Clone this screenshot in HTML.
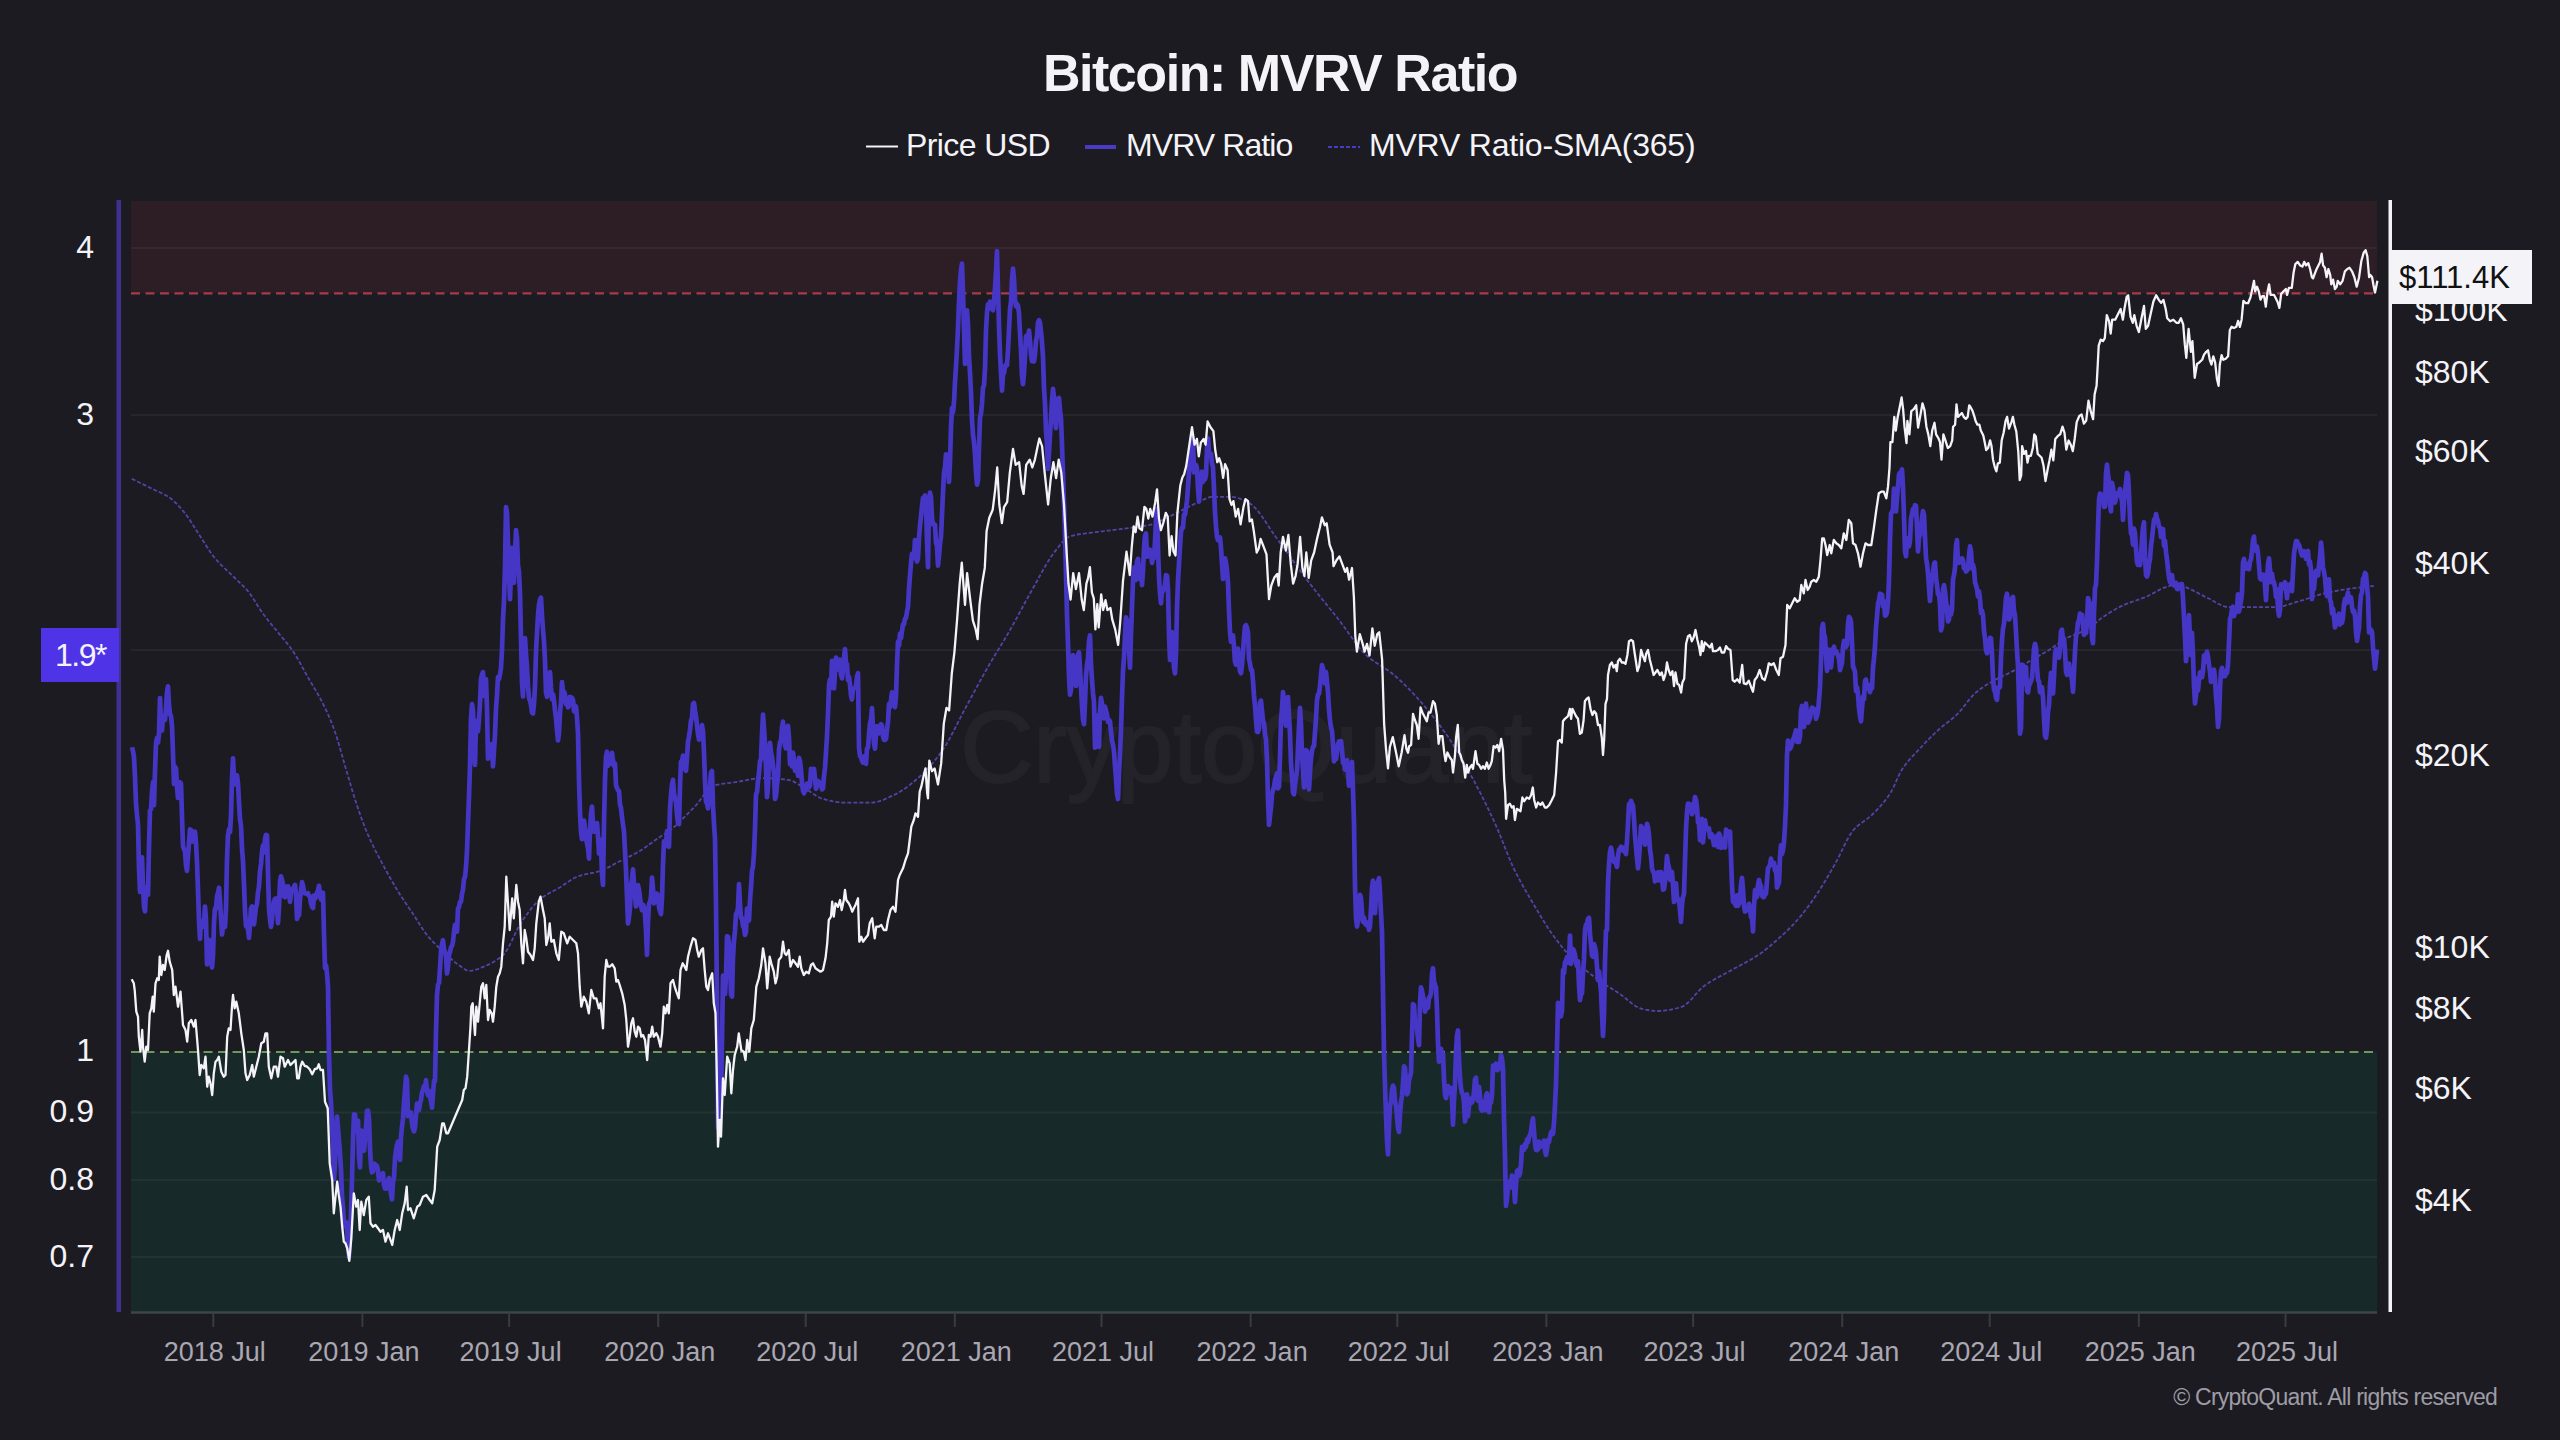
<!DOCTYPE html>
<html><head><meta charset="utf-8">
<style>
html,body{margin:0;padding:0;}
body{width:2560px;height:1440px;background:#1c1b21;overflow:hidden;position:relative;font-family:"Liberation Sans",sans-serif;}
.t{position:absolute;white-space:nowrap;line-height:1;}
</style></head><body>
<div class="t" style="left:960px;top:696px;font-size:102px;color:#242329;-webkit-text-stroke:1.8px #242329;letter-spacing:-0.6px;">CryptoQuant</div>
<div class="t" style="left:0;width:2560px;text-align:center;top:47px;font-size:52px;font-weight:bold;color:#f4f3f8;letter-spacing:-1.45px;">Bitcoin: MVRV Ratio</div>
<svg width="2560" height="1440" style="position:absolute;left:0;top:0">
  <line x1="866" y1="146.5" x2="898" y2="146.5" stroke="#f4f3f8" stroke-width="2"/>
  <line x1="1085" y1="147" x2="1116" y2="147" stroke="#4a3bc6" stroke-width="4"/>
  <line x1="1328" y1="147" x2="1360" y2="147" stroke="#4a3bc6" stroke-width="2" stroke-dasharray="4 2"/>
  <rect x="131" y="201" width="2246" height="92" fill="#2d1d24"/>
  <rect x="131" y="1052" width="2246" height="260" fill="#182929"/>
  <g stroke="rgba(255,255,255,0.05)" stroke-width="2">
    <line x1="131" y1="248" x2="2377" y2="248"/>
    <line x1="131" y1="415" x2="2377" y2="415"/>
    <line x1="131" y1="650" x2="2377" y2="650"/>
    <line x1="131" y1="1112.5" x2="2377" y2="1112.5"/>
    <line x1="131" y1="1180" x2="2377" y2="1180"/>
    <line x1="131" y1="1257" x2="2377" y2="1257"/>
  </g>
  <line x1="131" y1="293.3" x2="2377" y2="293.3" stroke="#a83a4a" stroke-width="2.2" stroke-dasharray="9 5.5"/>
  <line x1="131" y1="1052" x2="2377" y2="1052" stroke="#6c9a5a" stroke-width="2.2" stroke-dasharray="9 5.5"/>
  <line x1="131" y1="1312.5" x2="2377" y2="1312.5" stroke="#3d4547" stroke-width="2.5"/>
  <g stroke="#3a3b40" stroke-width="2">
    <line x1="213.3" y1="1313" x2="213.3" y2="1327"/>
    <line x1="362.4136" y1="1313" x2="362.4136" y2="1327"/>
    <line x1="509.096" y1="1313" x2="509.096" y2="1327"/>
    <line x1="658.2096" y1="1313" x2="658.2096" y2="1327"/>
    <line x1="805.7024000000001" y1="1313" x2="805.7024000000001" y2="1327"/>
    <line x1="954.816" y1="1313" x2="954.816" y2="1327"/>
    <line x1="1101.4984" y1="1313" x2="1101.4984" y2="1327"/>
    <line x1="1250.6119999999999" y1="1313" x2="1250.6119999999999" y2="1327"/>
    <line x1="1397.2944" y1="1313" x2="1397.2944" y2="1327"/>
    <line x1="1546.408" y1="1313" x2="1546.408" y2="1327"/>
    <line x1="1693.0904" y1="1313" x2="1693.0904" y2="1327"/>
    <line x1="1842.204" y1="1313" x2="1842.204" y2="1327"/>
    <line x1="1989.6968" y1="1313" x2="1989.6968" y2="1327"/>
    <line x1="2138.8104000000003" y1="1313" x2="2138.8104000000003" y2="1327"/>
    <line x1="2285.4928" y1="1313" x2="2285.4928" y2="1327"/>
  </g>
  <rect x="116.5" y="200" width="4.5" height="1112" fill="#40308f"/>
  <rect x="2388.5" y="200" width="3.5" height="1112" fill="#f4f3f8"/>
  <polyline points="131.8,478.8 133.8,479.7 135.8,480.7 137.8,481.7 139.8,482.7 141.8,483.7 143.8,484.6 145.8,485.6 147.8,486.6 149.8,487.6 151.8,488.6 153.8,489.5 155.8,490.5 157.8,491.3 159.8,492.3 161.8,493.2 163.8,494.2 165.8,495.3 167.8,496.5 169.8,497.8 171.8,499.3 173.8,501.1 175.8,503.0 177.8,505.0 179.8,507.2 181.8,509.5 183.8,511.8 185.8,514.3 187.8,517.1 189.8,520.0 191.8,523.1 193.8,526.3 195.8,529.5 197.8,532.6 199.8,535.7 201.8,538.8 203.8,541.9 205.8,545.1 207.8,548.3 209.8,551.3 211.8,554.2 213.8,556.8 215.8,559.2 217.8,561.4 219.8,563.5 221.8,565.6 223.8,567.5 225.8,569.4 227.8,571.2 229.8,573.1 231.8,575.1 233.8,577.0 235.8,579.0 237.8,580.9 239.8,582.7 241.8,584.6 243.8,586.6 245.8,588.7 247.8,591.0 249.8,593.5 251.8,596.4 253.8,599.5 255.8,602.6 257.8,605.9 259.8,609.0 261.8,612.0 263.8,614.8 265.8,617.4 267.8,620.0 269.8,622.4 271.8,624.9 273.8,627.3 275.8,629.7 277.8,632.2 279.8,634.7 281.8,637.0 283.8,639.4 285.8,641.8 287.8,644.3 289.8,646.8 291.8,649.5 293.8,652.4 295.8,655.6 297.8,659.0 299.8,662.5 301.8,666.1 303.8,669.8 305.8,673.5 307.8,677.1 309.8,680.5 311.8,683.9 313.8,687.2 315.8,690.6 317.8,694.0 319.8,697.6 321.8,701.3 323.8,705.3 325.8,709.5 327.8,713.8 329.8,718.4 331.8,723.3 333.8,728.5 335.8,734.2 337.8,740.6 339.8,747.4 341.8,754.5 343.8,761.6 345.8,768.4 347.8,775.2 349.8,782.1 351.8,788.9 353.8,795.5 355.8,801.8 357.8,807.8 359.8,813.6 361.8,819.1 363.8,824.5 365.8,829.6 367.8,834.4 369.8,838.9 371.8,843.2 373.8,847.3 375.8,851.3 377.8,855.1 379.8,858.9 381.8,862.7 383.8,866.4 385.8,870.1 387.8,873.7 389.8,877.3 391.8,880.9 393.8,884.3 395.8,887.7 397.8,891.0 399.8,894.2 401.8,897.3 403.8,900.3 405.8,903.3 407.8,906.2 409.8,909.2 411.8,912.1 413.8,915.1 415.8,918.2 417.8,921.4 419.8,924.6 421.8,927.7 423.8,930.7 425.8,933.5 427.8,936.1 429.8,938.4 431.8,940.6 433.8,942.7 435.8,944.6 437.8,946.5 439.8,948.4 441.8,950.2 443.8,952.1 445.8,954.0 447.8,955.9 449.8,957.7 451.8,959.5 453.8,961.3 455.8,962.9 457.8,964.3 459.8,965.8 461.8,967.3 463.8,968.7 465.8,969.9 467.8,970.7 469.8,970.9 471.8,970.7 473.8,970.3 475.8,969.7 477.8,969.1 479.8,968.3 481.8,967.4 483.8,966.6 485.8,965.8 487.8,964.9 489.8,964.0 491.8,963.0 493.8,961.8 495.8,960.6 497.8,959.2 499.8,957.7 501.8,956.1 503.8,954.3 505.8,951.7 507.8,948.5 509.8,944.8 511.8,940.8 513.8,936.6 515.8,932.4 517.8,928.4 519.8,924.7 521.8,921.5 523.8,918.6 525.8,915.8 527.8,913.1 529.8,910.4 531.8,907.9 533.8,905.5 535.8,903.3 537.8,901.3 539.8,899.5 541.8,897.9 543.8,896.5 545.8,895.2 547.8,894.0 549.8,892.9 551.8,891.8 553.8,890.7 555.8,889.7 557.8,888.6 559.8,887.4 561.8,886.1 563.8,884.8 565.8,883.4 567.8,882.1 569.8,880.8 571.8,879.5 573.8,878.3 575.8,877.3 577.8,876.5 579.8,875.8 581.8,875.2 583.8,874.7 585.8,874.2 587.8,873.8 589.8,873.4 591.8,873.0 593.8,872.6 595.8,872.1 597.8,871.6 599.8,871.0 601.8,870.3 603.8,869.5 605.8,868.6 607.8,867.6 609.8,866.6 611.8,865.5 613.8,864.4 615.8,863.3 617.8,862.2 619.8,861.2 621.8,860.2 623.8,859.3 625.8,858.3 627.8,857.4 629.8,856.4 631.8,855.4 633.8,854.3 635.8,853.3 637.8,852.1 639.8,850.9 641.8,849.7 643.8,848.4 645.8,847.0 647.8,845.6 649.8,844.1 651.8,842.7 653.8,841.2 655.8,839.8 657.8,838.4 659.8,837.1 661.8,835.7 663.8,834.4 665.8,833.1 667.8,831.7 669.8,830.3 671.8,828.8 673.8,827.2 675.8,825.6 677.8,823.6 679.8,821.6 681.8,819.6 683.8,817.6 685.8,815.6 687.8,813.6 689.8,811.6 691.8,809.6 693.8,807.6 695.8,805.5 697.8,803.1 699.8,800.5 701.8,797.8 703.8,795.1 705.8,792.5 707.8,790.2 709.8,788.2 711.8,786.6 713.8,785.7 715.8,785.2 717.8,784.7 719.8,784.3 721.8,783.9 723.8,783.6 725.8,783.4 727.8,783.1 729.8,782.9 731.8,782.6 733.8,782.4 735.8,782.1 737.8,781.8 739.8,781.4 741.8,781.0 743.8,780.7 745.8,780.3 747.8,779.9 749.8,779.5 751.8,779.2 753.8,778.9 755.8,778.6 757.8,778.4 759.8,778.3 761.8,778.2 763.8,778.2 765.8,778.2 767.8,778.3 769.8,778.3 771.8,778.4 773.8,778.5 775.8,778.7 777.8,778.8 779.8,779.0 781.8,779.2 783.8,779.4 785.8,779.6 787.8,779.9 789.8,780.2 791.8,780.8 793.8,781.6 795.8,782.7 797.8,783.9 799.8,785.2 801.8,786.4 803.8,787.6 805.8,788.7 807.8,790.1 809.8,791.4 811.8,792.9 813.8,794.3 815.8,795.6 817.8,796.8 819.8,797.8 821.8,798.6 823.8,799.1 825.8,799.7 827.8,800.2 829.8,800.6 831.8,801.1 833.8,801.5 835.8,801.8 837.8,802.1 839.8,802.3 841.8,802.5 843.8,802.6 845.8,802.6 847.8,802.6 849.8,802.6 851.8,802.6 853.8,802.6 855.8,802.6 857.8,802.6 859.8,802.6 861.8,802.6 863.8,802.6 865.8,802.6 867.8,802.6 869.8,802.6 871.8,802.6 873.8,802.5 875.8,802.1 877.8,801.7 879.8,801.1 881.8,800.4 883.8,799.6 885.8,798.7 887.8,797.8 889.8,796.9 891.8,795.9 893.8,795.0 895.8,794.1 897.8,793.0 899.8,791.9 901.8,790.6 903.8,789.3 905.8,787.9 907.8,786.4 909.8,784.9 911.8,783.3 913.8,781.7 915.8,780.0 917.8,778.3 919.8,776.5 921.8,774.7 923.8,772.8 925.8,770.8 927.8,768.7 929.8,766.4 931.8,764.1 933.8,761.7 935.8,759.2 937.8,756.7 939.8,754.0 941.8,751.2 943.8,748.3 945.8,745.2 947.8,741.8 949.8,738.2 951.8,734.5 953.8,730.6 955.8,726.7 957.8,722.8 959.8,718.8 961.8,714.9 963.8,711.1 965.8,707.4 967.8,703.7 969.8,700.0 971.8,696.3 973.8,692.6 975.8,688.9 977.8,685.2 979.8,681.6 981.8,677.9 983.8,674.3 985.8,670.8 987.8,667.2 989.8,663.8 991.8,660.4 993.8,657.1 995.8,653.7 997.8,650.5 999.8,647.2 1001.8,643.9 1003.8,640.6 1005.8,637.3 1007.8,633.9 1009.8,630.4 1011.8,626.9 1013.8,623.3 1015.8,619.7 1017.8,616.0 1019.8,612.3 1021.8,608.6 1023.8,604.8 1025.8,601.1 1027.8,597.5 1029.8,593.9 1031.8,590.3 1033.8,586.8 1035.8,583.2 1037.8,579.6 1039.8,575.9 1041.8,572.3 1043.8,568.7 1045.8,565.2 1047.8,561.9 1049.8,558.7 1051.8,555.7 1053.8,552.9 1055.8,550.4 1057.8,547.8 1059.8,545.3 1061.8,542.9 1063.8,540.7 1065.8,538.8 1067.8,537.3 1069.8,536.4 1071.8,535.8 1073.8,535.3 1075.8,534.9 1077.8,534.5 1079.8,534.2 1081.8,533.9 1083.8,533.6 1085.8,533.4 1087.8,533.1 1089.8,532.9 1091.8,532.6 1093.8,532.3 1095.8,532.1 1097.8,531.8 1099.8,531.5 1101.8,531.3 1103.8,531.1 1105.8,530.8 1107.8,530.6 1109.8,530.4 1111.8,530.1 1113.8,529.9 1115.8,529.7 1117.8,529.4 1119.8,529.2 1121.8,528.9 1123.8,528.6 1125.8,528.4 1127.8,528.2 1129.8,527.9 1131.8,527.7 1133.8,527.4 1135.8,527.2 1137.8,526.9 1139.8,526.6 1141.8,526.3 1143.8,526.0 1145.8,525.6 1147.8,525.2 1149.8,524.8 1151.8,524.3 1153.8,523.6 1155.8,522.9 1157.8,522.1 1159.8,521.2 1161.8,520.3 1163.8,519.3 1165.8,518.3 1167.8,517.3 1169.8,516.3 1171.8,515.4 1173.8,514.4 1175.8,513.4 1177.8,512.5 1179.8,511.5 1181.8,510.4 1183.8,509.4 1185.8,508.3 1187.8,507.3 1189.8,506.2 1191.8,505.2 1193.8,504.2 1195.8,503.3 1197.8,502.4 1199.8,501.5 1201.8,500.5 1203.8,499.5 1205.8,498.6 1207.8,497.8 1209.8,497.2 1211.8,496.9 1213.8,496.9 1215.8,496.9 1217.8,496.9 1219.8,496.9 1221.8,496.9 1223.8,496.9 1225.8,496.9 1227.8,496.9 1229.8,496.9 1231.8,496.9 1233.8,497.1 1235.8,497.4 1237.8,498.0 1239.8,498.6 1241.8,499.5 1243.8,500.4 1245.8,501.4 1247.8,502.4 1249.8,503.5 1251.8,504.8 1253.8,506.6 1255.8,508.6 1257.8,510.9 1259.8,513.5 1261.8,516.2 1263.8,519.1 1265.8,522.1 1267.8,525.2 1269.8,528.2 1271.8,531.3 1273.8,534.2 1275.8,537.0 1277.8,539.7 1279.8,542.4 1281.8,545.1 1283.8,547.9 1285.8,550.6 1287.8,553.4 1289.8,556.2 1291.8,559.0 1293.8,561.8 1295.8,564.6 1297.8,567.4 1299.8,570.1 1301.8,572.9 1303.8,575.6 1305.8,578.3 1307.8,580.9 1309.8,583.5 1311.8,586.1 1313.8,588.7 1315.8,591.2 1317.8,593.7 1319.8,596.2 1321.8,598.7 1323.8,601.1 1325.8,603.6 1327.8,606.1 1329.8,608.5 1331.8,611.0 1333.8,613.5 1335.8,616.0 1337.8,618.5 1339.8,621.1 1341.8,623.7 1343.8,626.5 1345.8,629.3 1347.8,632.1 1349.8,634.9 1351.8,637.7 1353.8,640.5 1355.8,643.2 1357.8,645.8 1359.8,648.3 1361.8,650.6 1363.8,652.8 1365.8,654.8 1367.8,656.5 1369.8,658.2 1371.8,659.7 1373.8,661.1 1375.8,662.5 1377.8,663.8 1379.8,665.1 1381.8,666.3 1383.8,667.6 1385.8,668.9 1387.8,670.2 1389.8,671.7 1391.8,673.2 1393.8,674.8 1395.8,676.5 1397.8,678.3 1399.8,680.1 1401.8,682.0 1403.8,683.9 1405.8,685.8 1407.8,687.9 1409.8,689.9 1411.8,692.0 1413.8,694.2 1415.8,696.3 1417.8,698.5 1419.8,700.7 1421.8,703.0 1423.8,705.3 1425.8,707.6 1427.8,710.0 1429.8,712.5 1431.8,715.0 1433.8,717.5 1435.8,720.1 1437.8,722.7 1439.8,725.4 1441.8,728.1 1443.8,730.9 1445.8,733.7 1447.8,736.6 1449.8,739.6 1451.8,742.7 1453.8,745.8 1455.8,749.0 1457.8,752.3 1459.8,755.7 1461.8,759.1 1463.8,762.6 1465.8,766.2 1467.8,769.7 1469.8,773.3 1471.8,777.0 1473.8,780.6 1475.8,784.4 1477.8,788.2 1479.8,792.0 1481.8,795.9 1483.8,799.9 1485.8,803.9 1487.8,808.0 1489.8,812.2 1491.8,816.4 1493.8,820.7 1495.8,825.1 1497.8,829.7 1499.8,834.6 1501.8,839.6 1503.8,844.7 1505.8,849.7 1507.8,854.7 1509.8,859.5 1511.8,864.2 1513.8,868.5 1515.8,872.5 1517.8,876.4 1519.8,880.2 1521.8,883.9 1523.8,887.5 1525.8,891.0 1527.8,894.4 1529.8,897.8 1531.8,901.2 1533.8,904.6 1535.8,908.0 1537.8,911.4 1539.8,914.7 1541.8,918.1 1543.8,921.3 1545.8,924.5 1547.8,927.7 1549.8,930.7 1551.8,933.5 1553.8,936.3 1555.8,939.0 1557.8,941.6 1559.8,944.2 1561.8,946.7 1563.8,949.1 1565.8,951.4 1567.8,953.6 1569.8,955.8 1571.8,957.9 1573.8,959.8 1575.8,961.7 1577.8,963.6 1579.8,965.3 1581.8,967.0 1583.8,968.7 1585.8,970.3 1587.8,971.9 1589.8,973.5 1591.8,975.0 1593.8,976.5 1595.8,978.0 1597.8,979.5 1599.8,980.9 1601.8,982.2 1603.8,983.6 1605.8,984.9 1607.8,986.2 1609.8,987.4 1611.8,988.7 1613.8,990.0 1615.8,991.3 1617.8,992.6 1619.8,993.9 1621.8,995.4 1623.8,996.9 1625.8,998.5 1627.8,1000.2 1629.8,1001.8 1631.8,1003.4 1633.8,1004.9 1635.8,1006.2 1637.8,1007.3 1639.8,1008.2 1641.8,1008.9 1643.8,1009.3 1645.8,1009.7 1647.8,1010.0 1649.8,1010.4 1651.8,1010.6 1653.8,1010.8 1655.8,1011.0 1657.8,1011.0 1659.8,1011.0 1661.8,1010.9 1663.8,1010.7 1665.8,1010.4 1667.8,1010.1 1669.8,1009.8 1671.8,1009.4 1673.8,1009.0 1675.8,1008.5 1677.8,1008.0 1679.8,1007.4 1681.8,1006.8 1683.8,1005.9 1685.8,1004.5 1687.8,1002.8 1689.8,1000.9 1691.8,998.8 1693.8,996.5 1695.8,994.2 1697.8,992.0 1699.8,989.8 1701.8,987.9 1703.8,986.2 1705.8,984.7 1707.8,983.4 1709.8,982.1 1711.8,980.9 1713.8,979.7 1715.8,978.6 1717.8,977.5 1719.8,976.4 1721.8,975.4 1723.8,974.3 1725.8,973.3 1727.8,972.2 1729.8,971.1 1731.8,970.0 1733.8,968.8 1735.8,967.7 1737.8,966.7 1739.8,965.6 1741.8,964.5 1743.8,963.5 1745.8,962.4 1747.8,961.3 1749.8,960.2 1751.8,959.0 1753.8,957.9 1755.8,956.6 1757.8,955.3 1759.8,954.0 1761.8,952.6 1763.8,951.1 1765.8,949.5 1767.8,947.9 1769.8,946.2 1771.8,944.5 1773.8,942.8 1775.8,941.0 1777.8,939.2 1779.8,937.4 1781.8,935.6 1783.8,933.8 1785.8,931.9 1787.8,930.0 1789.8,928.0 1791.8,926.0 1793.8,923.9 1795.8,921.7 1797.8,919.5 1799.8,917.2 1801.8,914.8 1803.8,912.3 1805.8,909.7 1807.8,907.1 1809.8,904.4 1811.8,901.6 1813.8,898.7 1815.8,895.8 1817.8,892.8 1819.8,889.7 1821.8,886.6 1823.8,883.3 1825.8,879.9 1827.8,876.5 1829.8,873.1 1831.8,869.6 1833.8,866.1 1835.8,862.6 1837.8,858.8 1839.8,854.8 1841.8,850.6 1843.8,846.5 1845.8,842.4 1847.8,838.6 1849.8,835.2 1851.8,832.2 1853.8,829.7 1855.8,827.6 1857.8,825.8 1859.8,824.2 1861.8,822.7 1863.8,821.3 1865.8,819.9 1867.8,818.4 1869.8,816.8 1871.8,815.0 1873.8,813.0 1875.8,811.0 1877.8,808.9 1879.8,806.8 1881.8,804.5 1883.8,802.1 1885.8,799.6 1887.8,796.9 1889.8,794.0 1891.8,790.6 1893.8,786.6 1895.8,782.1 1897.8,777.6 1899.8,773.4 1901.8,769.8 1903.8,766.8 1905.8,764.1 1907.8,761.6 1909.8,759.3 1911.8,757.0 1913.8,754.9 1915.8,752.8 1917.8,750.7 1919.8,748.6 1921.8,746.5 1923.8,744.3 1925.8,742.2 1927.8,740.2 1929.8,738.2 1931.8,736.2 1933.8,734.2 1935.8,732.3 1937.8,730.5 1939.8,728.6 1941.8,726.9 1943.8,725.3 1945.8,723.7 1947.8,722.2 1949.8,720.6 1951.8,719.0 1953.8,717.3 1955.8,715.6 1957.8,713.7 1959.8,711.5 1961.8,709.1 1963.8,706.6 1965.8,704.0 1967.8,701.4 1969.8,698.9 1971.8,696.6 1973.8,694.4 1975.8,692.6 1977.8,691.0 1979.8,689.4 1981.8,688.0 1983.8,686.6 1985.8,685.3 1987.8,684.1 1989.8,682.9 1991.8,681.7 1993.8,680.6 1995.8,679.5 1997.8,678.4 1999.8,677.4 2001.8,676.5 2003.8,675.5 2005.8,674.6 2007.8,673.7 2009.8,672.7 2011.8,671.6 2013.8,670.6 2015.8,669.4 2017.8,668.3 2019.8,667.1 2021.8,665.9 2023.8,664.7 2025.8,663.5 2027.8,662.3 2029.8,661.1 2031.8,660.0 2033.8,658.8 2035.8,657.7 2037.8,656.5 2039.8,655.4 2041.8,654.3 2043.8,653.1 2045.8,651.9 2047.8,650.7 2049.8,649.5 2051.8,648.1 2053.8,646.7 2055.8,645.3 2057.8,643.9 2059.8,642.5 2061.8,641.1 2063.8,639.8 2065.8,638.6 2067.8,637.5 2069.8,636.6 2071.8,635.7 2073.8,635.0 2075.8,634.2 2077.8,633.5 2079.8,632.7 2081.8,631.9 2083.8,631.0 2085.8,630.0 2087.8,628.8 2089.8,627.4 2091.8,625.9 2093.8,624.3 2095.8,622.7 2097.8,621.0 2099.8,619.4 2101.8,617.9 2103.8,616.5 2105.8,615.2 2107.8,613.9 2109.8,612.6 2111.8,611.4 2113.8,610.2 2115.8,609.0 2117.8,607.9 2119.8,606.9 2121.8,605.9 2123.8,605.0 2125.8,604.2 2127.8,603.4 2129.8,602.6 2131.8,601.9 2133.8,601.2 2135.8,600.5 2137.8,599.9 2139.8,599.2 2141.8,598.4 2143.8,597.7 2145.8,596.9 2147.8,596.0 2149.8,595.0 2151.8,594.0 2153.8,592.9 2155.8,591.7 2157.8,590.7 2159.8,589.6 2161.8,588.7 2163.8,587.8 2165.8,587.1 2167.8,586.5 2169.8,585.8 2171.8,585.2 2173.8,584.7 2175.8,584.4 2177.8,584.3 2179.8,584.6 2181.8,585.3 2183.8,586.2 2185.8,587.1 2187.8,588.1 2189.8,589.0 2191.8,589.9 2193.8,590.9 2195.8,591.9 2197.8,592.9 2199.8,594.0 2201.8,595.0 2203.8,596.1 2205.8,597.1 2207.8,598.0 2209.8,599.0 2211.8,600.1 2213.8,601.2 2215.8,602.4 2217.8,603.5 2219.8,604.5 2221.8,605.5 2223.8,606.2 2225.8,606.8 2227.8,607.1 2229.8,607.2 2231.8,607.2 2233.8,607.2 2235.8,607.2 2237.8,607.2 2239.8,607.2 2241.8,607.2 2243.8,607.2 2245.8,607.2 2247.8,607.2 2249.8,607.2 2251.8,607.2 2253.8,607.2 2255.8,607.2 2257.8,607.2 2259.8,607.2 2261.8,607.2 2263.8,607.2 2265.8,607.2 2267.8,607.2 2269.8,607.2 2271.8,607.2 2273.8,607.2 2275.8,607.2 2277.8,607.1 2279.8,606.8 2281.8,606.4 2283.8,606.0 2285.8,605.4 2287.8,604.8 2289.8,604.2 2291.8,603.5 2293.8,602.9 2295.8,602.2 2297.8,601.6 2299.8,601.0 2301.8,600.4 2303.8,599.8 2305.8,599.1 2307.8,598.5 2309.8,597.8 2311.8,597.1 2313.8,596.4 2315.8,595.8 2317.8,595.2 2319.8,594.6 2321.8,594.0 2323.8,593.5 2325.8,593.1 2327.8,592.6 2329.8,592.2 2331.8,591.8 2333.8,591.4 2335.8,591.0 2337.8,590.6 2339.8,590.3 2341.8,589.9 2343.8,589.6 2345.8,589.3 2347.8,589.0 2349.8,588.7 2351.8,588.4 2353.8,588.1 2355.8,587.9 2357.8,587.6 2359.8,587.4 2361.8,587.1 2363.8,586.9 2365.8,586.7 2367.8,586.5 2369.8,586.3 2371.8,586.1 2373.8,585.9" fill="none" stroke="#5244a6" stroke-width="1.8" stroke-dasharray="4 2"/>
  <polyline points="132.0,747.2 133.0,751.2 134.0,757.2 135.0,777.3 136.0,803.5 137.0,814.6 138.0,824.6 139.0,868.0 140.0,892.0 141.0,875.9 142.0,857.3 143.0,886.4 144.0,906.1 145.0,911.3 146.0,889.1 147.0,887.0 148.0,895.0 149.0,846.2 150.0,810.6 151.0,809.2 152.0,792.5 153.0,782.1 154.0,805.1 155.0,771.1 156.0,743.3 157.0,738.0 158.0,742.7 159.0,733.7 160.0,698.2 161.0,724.3 162.0,730.5 163.0,716.8 164.0,718.5 165.0,719.8 166.0,708.6 167.0,692.4 168.0,686.3 169.0,704.8 170.0,714.3 171.0,716.0 172.0,725.9 173.0,753.5 174.0,784.0 175.0,766.8 176.0,768.5 177.0,787.0 178.0,798.0 179.0,789.0 180.0,782.2 181.0,783.4 182.0,816.6 183.0,846.2 184.0,849.2 185.0,851.4 186.0,865.4 187.0,870.9 188.0,856.3 189.0,842.8 190.0,829.4 191.0,830.0 192.0,832.2 193.0,841.4 194.0,841.5 195.0,831.5 196.0,842.9 197.0,862.2 198.0,890.4 199.0,920.5 200.0,938.9 201.0,921.2 202.0,922.2 203.0,926.6 204.0,921.5 205.0,906.5 206.0,919.7 207.0,964.3 208.0,946.5 209.0,939.7 210.0,950.6 211.0,960.5 212.0,967.5 213.0,955.8 214.0,923.0 215.0,908.3 216.0,908.6 217.0,896.3 218.0,893.0 219.0,887.7 220.0,901.1 221.0,918.7 222.0,934.5 223.0,926.0 224.0,924.9 225.0,927.0 226.0,908.0 227.0,859.3 228.0,835.7 229.0,829.1 230.0,832.0 231.0,816.0 232.0,778.9 233.0,758.4 234.0,777.2 235.0,784.3 236.0,776.5 237.0,775.5 238.0,783.4 239.0,802.5 240.0,819.4 241.0,825.9 242.0,848.3 243.0,861.5 244.0,884.4 245.0,910.6 246.0,926.2 247.0,926.5 248.0,929.2 249.0,937.9 250.0,923.6 251.0,908.7 252.0,906.4 253.0,913.9 254.0,924.3 255.0,915.6 256.0,907.3 257.0,903.9 258.0,892.3 259.0,886.4 260.0,871.3 261.0,864.0 262.0,851.9 263.0,845.3 264.0,852.1 265.0,838.9 266.0,834.9 267.0,835.2 268.0,872.9 269.0,908.6 270.0,919.6 271.0,926.9 272.0,919.9 273.0,908.4 274.0,901.5 275.0,898.7 276.0,898.5 277.0,908.2 278.0,923.1 279.0,907.1 280.0,881.6 281.0,876.3 282.0,879.7 283.0,884.6 284.0,896.4 285.0,897.3 286.0,886.7 287.0,892.1 288.0,886.3 289.0,891.1 290.0,901.9 291.0,892.5 292.0,889.2 293.0,888.7 294.0,886.7 295.0,884.9 296.0,894.1 297.0,918.9 298.0,915.4 299.0,915.0 300.0,899.0 301.0,890.9 302.0,882.2 303.0,885.9 304.0,892.2 305.0,893.3 306.0,893.3 307.0,894.0 308.0,893.3 309.0,895.8 310.0,896.5 311.0,903.3 312.0,906.8 313.0,908.0 314.0,895.5 315.0,898.8 316.0,896.5 317.0,892.6 318.0,890.4 319.0,885.8 320.0,896.5 321.0,899.6 322.0,896.3 323.0,892.7 324.0,934.2 325.0,968.0 326.0,965.1 327.0,973.4 328.0,987.0 329.0,1056.0 330.0,1089.7 331.0,1103.0 332.0,1121.5 333.0,1148.5 334.0,1179.3 335.0,1162.0 336.0,1139.9 337.0,1116.5 338.0,1128.3 339.0,1141.0 340.0,1153.6 341.0,1169.0 342.0,1195.9 343.0,1207.4 344.0,1226.1 345.0,1225.6 346.0,1221.9 347.0,1227.8 348.0,1244.5 349.0,1257.1 350.0,1236.7 351.0,1215.2 352.0,1179.2 353.0,1139.7 354.0,1114.4 355.0,1114.5 356.0,1131.2 357.0,1128.8 358.0,1120.6 359.0,1156.4 360.0,1167.4 361.0,1130.5 362.0,1130.7 363.0,1149.3 364.0,1150.7 365.0,1140.5 366.0,1127.5 367.0,1110.8 368.0,1110.7 369.0,1118.6 370.0,1148.2 371.0,1166.2 372.0,1172.3 373.0,1171.4 374.0,1163.5 375.0,1164.2 376.0,1166.3 377.0,1166.0 378.0,1170.8 379.0,1180.4 380.0,1175.5 381.0,1175.3 382.0,1176.0 383.0,1173.1 384.0,1185.0 385.0,1188.6 386.0,1188.6 387.0,1188.4 388.0,1181.1 389.0,1178.1 390.0,1183.6 391.0,1194.0 392.0,1199.3 393.0,1181.9 394.0,1177.8 395.0,1158.1 396.0,1150.9 397.0,1144.7 398.0,1141.7 399.0,1156.2 400.0,1159.8 401.0,1136.7 402.0,1126.8 403.0,1118.7 404.0,1102.1 405.0,1090.3 406.0,1076.7 407.0,1080.3 408.0,1116.1 409.0,1112.9 410.0,1113.6 411.0,1112.6 412.0,1123.6 413.0,1128.7 414.0,1131.4 415.0,1127.5 416.0,1115.4 417.0,1103.5 418.0,1110.3 419.0,1109.8 420.0,1102.8 421.0,1100.0 422.0,1092.3 423.0,1089.8 424.0,1086.0 425.0,1089.4 426.0,1080.2 427.0,1091.1 428.0,1095.1 429.0,1090.7 430.0,1096.9 431.0,1101.0 432.0,1107.6 433.0,1093.8 434.0,1080.9 435.0,1081.1 436.0,1032.8 437.0,995.3 438.0,984.6 439.0,982.9 440.0,968.4 441.0,951.2 442.0,944.0 443.0,940.2 444.0,949.5 445.0,952.1 446.0,955.6 447.0,973.5 448.0,966.8 449.0,954.7 450.0,952.2 451.0,947.2 452.0,946.0 453.0,941.7 454.0,931.7 455.0,924.8 456.0,930.8 457.0,931.6 458.0,908.7 459.0,906.9 460.0,901.8 461.0,901.7 462.0,893.8 463.0,889.4 464.0,879.2 465.0,876.9 466.0,867.1 467.0,850.6 468.0,823.0 469.0,796.6 470.0,765.4 471.0,718.5 472.0,704.1 473.0,710.9 474.0,739.9 475.0,764.9 476.0,721.1 477.0,723.4 478.0,731.3 479.0,718.6 480.0,703.3 481.0,679.0 482.0,674.4 483.0,672.2 484.0,696.0 485.0,692.8 486.0,679.2 487.0,708.8 488.0,758.7 489.0,750.8 490.0,748.3 491.0,746.8 492.0,744.0 493.0,766.4 494.0,750.3 495.0,734.6 496.0,708.7 497.0,695.6 498.0,677.0 499.0,679.0 500.0,674.1 501.0,668.1 502.0,649.7 503.0,619.7 504.0,601.2 505.0,566.3 506.0,507.2 507.0,512.2 508.0,544.0 509.0,574.2 510.0,599.2 511.0,570.9 512.0,547.8 513.0,567.7 514.0,582.7 515.0,553.6 516.0,530.0 517.0,538.1 518.0,565.4 519.0,572.1 520.0,593.7 521.0,637.9 522.0,682.7 523.0,696.5 524.0,660.7 525.0,638.2 526.0,653.7 527.0,667.9 528.0,686.2 529.0,697.9 530.0,700.8 531.0,704.9 532.0,712.7 533.0,713.5 534.0,704.0 535.0,686.2 536.0,652.4 537.0,633.1 538.0,615.6 539.0,604.7 540.0,599.6 541.0,597.7 542.0,615.9 543.0,629.4 544.0,642.0 545.0,660.7 546.0,692.5 547.0,696.8 548.0,687.3 549.0,674.4 550.0,672.1 551.0,687.7 552.0,699.2 553.0,694.2 554.0,700.3 555.0,710.5 556.0,718.1 557.0,730.5 558.0,740.5 559.0,733.0 560.0,712.5 561.0,702.4 562.0,682.1 563.0,692.0 564.0,691.6 565.0,694.5 566.0,704.2 567.0,703.2 568.0,707.3 569.0,705.4 570.0,696.8 571.0,700.4 572.0,697.8 573.0,699.7 574.0,711.4 575.0,705.5 576.0,706.6 577.0,718.0 578.0,733.7 579.0,780.6 580.0,812.3 581.0,832.1 582.0,839.2 583.0,830.0 584.0,820.5 585.0,828.0 586.0,838.2 587.0,843.4 588.0,848.5 589.0,858.6 590.0,830.0 591.0,813.9 592.0,806.5 593.0,824.8 594.0,831.7 595.0,828.0 596.0,829.7 597.0,823.0 598.0,836.3 599.0,853.5 600.0,839.5 601.0,847.6 602.0,874.3 603.0,885.0 604.0,823.5 605.0,780.0 606.0,756.8 607.0,751.7 608.0,765.8 609.0,757.7 610.0,757.0 611.0,763.7 612.0,752.8 613.0,760.7 614.0,765.8 615.0,763.7 616.0,785.2 617.0,787.8 618.0,790.5 619.0,790.9 620.0,804.6 621.0,807.9 622.0,817.0 623.0,824.7 624.0,831.6 625.0,850.9 626.0,870.0 627.0,896.8 628.0,923.3 629.0,917.4 630.0,907.5 631.0,886.2 632.0,878.6 633.0,869.4 634.0,884.1 635.0,896.3 636.0,906.5 637.0,903.3 638.0,885.2 639.0,889.9 640.0,897.8 641.0,904.8 642.0,910.2 643.0,904.7 644.0,907.0 645.0,914.5 646.0,931.3 647.0,954.8 648.0,922.2 649.0,903.9 650.0,901.8 651.0,896.3 652.0,877.5 653.0,888.5 654.0,903.4 655.0,901.0 656.0,900.5 657.0,893.5 658.0,895.8 659.0,906.9 660.0,911.3 661.0,914.0 662.0,897.9 663.0,864.4 664.0,841.3 665.0,846.3 666.0,843.4 667.0,831.2 668.0,842.9 669.0,846.8 670.0,809.1 671.0,794.7 672.0,784.5 673.0,779.8 674.0,794.2 675.0,797.7 676.0,802.4 677.0,814.4 678.0,823.2 679.0,824.1 680.0,786.3 681.0,761.7 682.0,761.6 683.0,755.6 684.0,758.3 685.0,769.2 686.0,770.8 687.0,757.4 688.0,741.7 689.0,736.7 690.0,729.8 691.0,720.6 692.0,717.8 693.0,704.0 694.0,703.0 695.0,710.3 696.0,716.1 697.0,725.5 698.0,733.8 699.0,739.6 700.0,737.7 701.0,728.5 702.0,725.1 703.0,731.6 704.0,752.8 705.0,780.3 706.0,801.7 707.0,803.6 708.0,808.3 709.0,791.0 710.0,786.5 711.0,772.6 712.0,771.1 713.0,805.4 714.0,824.2 715.0,838.6 716.0,904.3 717.0,1002.5 718.0,1127.8 719.0,1084.4 720.0,1074.8 721.0,1094.4 722.0,1039.6 723.0,975.7 724.0,985.9 725.0,994.0 726.0,976.3 727.0,936.3 728.0,936.7 729.0,943.1 730.0,955.9 731.0,994.5 732.0,996.6 733.0,957.8 734.0,940.6 735.0,930.7 736.0,913.8 737.0,913.0 738.0,907.9 739.0,884.2 740.0,904.5 741.0,917.9 742.0,918.0 743.0,926.1 744.0,927.7 745.0,934.9 746.0,931.9 747.0,908.7 748.0,916.1 749.0,920.5 750.0,900.4 751.0,887.2 752.0,871.1 753.0,866.6 754.0,853.2 755.0,828.3 756.0,794.6 757.0,792.3 758.0,781.1 759.0,772.9 760.0,761.5 761.0,759.1 762.0,734.3 763.0,714.6 764.0,728.4 765.0,743.8 766.0,768.9 767.0,797.2 768.0,787.3 769.0,756.6 770.0,742.9 771.0,752.3 772.0,757.0 773.0,765.1 774.0,773.2 775.0,799.0 776.0,796.1 777.0,784.8 778.0,776.4 779.0,749.6 780.0,742.2 781.0,740.5 782.0,727.6 783.0,721.6 784.0,733.2 785.0,745.6 786.0,748.4 787.0,737.6 788.0,725.9 789.0,737.7 790.0,763.8 791.0,762.5 792.0,766.3 793.0,752.7 794.0,759.4 795.0,770.9 796.0,768.5 797.0,764.4 798.0,775.9 799.0,757.9 800.0,760.9 801.0,769.8 802.0,782.9 803.0,790.6 804.0,793.2 805.0,786.9 806.0,790.3 807.0,783.5 808.0,787.0 809.0,787.4 810.0,785.4 811.0,768.8 812.0,776.1 813.0,773.9 814.0,768.8 815.0,778.8 816.0,788.8 817.0,786.0 818.0,781.0 819.0,785.1 820.0,785.2 821.0,782.6 822.0,789.5 823.0,788.2 824.0,776.2 825.0,768.0 826.0,752.3 827.0,736.5 828.0,713.3 829.0,685.1 830.0,679.3 831.0,688.0 832.0,660.8 833.0,665.3 834.0,688.5 835.0,672.0 836.0,657.5 837.0,667.8 838.0,669.4 839.0,661.5 840.0,659.8 841.0,674.7 842.0,678.4 843.0,669.9 844.0,657.7 845.0,649.0 846.0,662.6 847.0,664.4 848.0,680.1 849.0,677.1 850.0,684.6 851.0,695.2 852.0,699.4 853.0,688.7 854.0,688.4 855.0,687.7 856.0,685.8 857.0,676.7 858.0,673.2 859.0,747.6 860.0,756.3 861.0,757.0 862.0,760.7 863.0,762.6 864.0,756.3 865.0,761.8 866.0,763.8 867.0,748.5 868.0,747.4 869.0,734.8 870.0,723.5 871.0,719.4 872.0,708.2 873.0,729.5 874.0,743.3 875.0,748.7 876.0,734.2 877.0,726.2 878.0,730.9 879.0,733.3 880.0,728.6 881.0,724.2 882.0,725.6 883.0,736.4 884.0,739.7 885.0,740.0 886.0,738.9 887.0,729.7 888.0,722.3 889.0,704.0 890.0,707.2 891.0,700.0 892.0,692.3 893.0,698.1 894.0,703.1 895.0,707.1 896.0,696.4 897.0,664.7 898.0,641.7 899.0,645.7 900.0,633.5 901.0,638.3 902.0,631.1 903.0,624.3 904.0,624.3 905.0,618.7 906.0,618.0 907.0,611.8 908.0,606.9 909.0,588.8 910.0,575.3 911.0,563.4 912.0,553.8 913.0,557.7 914.0,556.8 915.0,540.0 916.0,557.4 917.0,561.5 918.0,558.3 919.0,537.8 920.0,525.6 921.0,516.5 922.0,506.4 923.0,497.9 924.0,501.0 925.0,495.5 926.0,505.4 927.0,539.6 928.0,567.1 929.0,502.6 930.0,492.7 931.0,497.2 932.0,517.9 933.0,524.5 934.0,524.2 935.0,524.6 936.0,543.0 937.0,546.1 938.0,565.6 939.0,555.9 940.0,543.8 941.0,536.6 942.0,515.0 943.0,492.6 944.0,472.7 945.0,467.2 946.0,454.4 947.0,460.3 948.0,467.2 949.0,482.0 950.0,461.8 951.0,427.3 952.0,408.1 953.0,412.3 954.0,402.6 955.0,381.8 956.0,366.7 957.0,349.2 958.0,327.9 959.0,301.6 960.0,281.8 961.0,269.9 962.0,263.5 963.0,292.8 964.0,328.1 965.0,364.0 966.0,338.0 967.0,310.3 968.0,325.2 969.0,356.7 970.0,373.4 971.0,392.0 972.0,419.8 973.0,434.9 974.0,442.1 975.0,454.6 976.0,472.6 977.0,484.6 978.0,480.5 979.0,447.8 980.0,417.7 981.0,413.4 982.0,403.7 983.0,387.4 984.0,385.6 985.0,368.5 986.0,330.9 987.0,312.8 988.0,304.3 989.0,308.6 990.0,301.6 991.0,304.2 992.0,308.1 993.0,310.2 994.0,300.8 995.0,287.9 996.0,271.4 997.0,251.1 998.0,289.2 999.0,326.1 1000.0,354.0 1001.0,372.9 1002.0,390.7 1003.0,374.4 1004.0,373.1 1005.0,366.5 1006.0,364.7 1007.0,365.2 1008.0,350.3 1009.0,330.0 1010.0,309.5 1011.0,301.6 1012.0,279.3 1013.0,268.6 1014.0,279.3 1015.0,298.7 1016.0,306.3 1017.0,304.1 1018.0,305.6 1019.0,313.3 1020.0,333.0 1021.0,350.7 1022.0,376.0 1023.0,384.1 1024.0,373.0 1025.0,355.9 1026.0,336.5 1027.0,335.4 1028.0,345.5 1029.0,330.5 1030.0,341.3 1031.0,354.7 1032.0,361.2 1033.0,355.9 1034.0,361.5 1035.0,354.6 1036.0,340.8 1037.0,336.3 1038.0,322.6 1039.0,320.2 1040.0,322.7 1041.0,331.5 1042.0,342.7 1043.0,356.9 1044.0,388.1 1045.0,403.9 1046.0,430.7 1047.0,444.0 1048.0,468.8 1049.0,452.6 1050.0,435.0 1051.0,418.9 1052.0,400.7 1053.0,388.9 1054.0,397.2 1055.0,418.2 1056.0,428.2 1057.0,409.9 1058.0,398.8 1059.0,398.1 1060.0,410.2 1061.0,418.6 1062.0,444.8 1063.0,474.4 1064.0,503.1 1065.0,535.0 1066.0,574.7 1067.0,615.2 1068.0,644.3 1069.0,676.4 1070.0,694.7 1071.0,689.6 1072.0,675.0 1073.0,655.2 1074.0,659.8 1075.0,674.5 1076.0,686.0 1077.0,667.6 1078.0,654.7 1079.0,652.3 1080.0,667.9 1081.0,687.8 1082.0,705.5 1083.0,719.5 1084.0,724.1 1085.0,702.8 1086.0,675.7 1087.0,664.5 1088.0,658.5 1089.0,640.9 1090.0,635.4 1091.0,663.8 1092.0,680.4 1093.0,692.9 1094.0,702.3 1095.0,747.6 1096.0,739.9 1097.0,715.5 1098.0,730.2 1099.0,746.8 1100.0,710.8 1101.0,697.9 1102.0,703.9 1103.0,717.5 1104.0,718.3 1105.0,706.7 1106.0,710.9 1107.0,714.8 1108.0,721.8 1109.0,719.9 1110.0,721.3 1111.0,732.1 1112.0,740.7 1113.0,744.8 1114.0,751.5 1115.0,766.0 1116.0,778.6 1117.0,793.5 1118.0,799.0 1119.0,772.4 1120.0,754.8 1121.0,729.8 1122.0,698.0 1123.0,671.5 1124.0,657.1 1125.0,636.9 1126.0,617.4 1127.0,620.6 1128.0,637.9 1129.0,649.9 1130.0,667.6 1131.0,634.7 1132.0,607.2 1133.0,581.5 1134.0,567.7 1135.0,578.6 1136.0,579.9 1137.0,561.2 1138.0,559.0 1139.0,575.1 1140.0,579.0 1141.0,565.9 1142.0,585.1 1143.0,571.1 1144.0,548.5 1145.0,535.6 1146.0,533.4 1147.0,556.7 1148.0,555.8 1149.0,551.1 1150.0,549.8 1151.0,552.8 1152.0,562.8 1153.0,556.8 1154.0,557.9 1155.0,541.7 1156.0,519.7 1157.0,508.8 1158.0,548.9 1159.0,576.3 1160.0,593.5 1161.0,603.3 1162.0,589.8 1163.0,591.0 1164.0,588.9 1165.0,584.5 1166.0,575.2 1167.0,575.6 1168.0,589.7 1169.0,634.7 1170.0,659.9 1171.0,644.4 1172.0,632.1 1173.0,652.8 1174.0,667.3 1175.0,673.5 1176.0,653.4 1177.0,607.3 1178.0,581.2 1179.0,563.2 1180.0,546.5 1181.0,531.9 1182.0,528.0 1183.0,527.6 1184.0,514.5 1185.0,514.8 1186.0,508.0 1187.0,500.7 1188.0,486.8 1189.0,472.6 1190.0,461.5 1191.0,449.4 1192.0,437.2 1193.0,442.7 1194.0,472.4 1195.0,472.0 1196.0,464.8 1197.0,468.8 1198.0,488.7 1199.0,501.7 1200.0,487.7 1201.0,479.8 1202.0,471.6 1203.0,481.8 1204.0,473.2 1205.0,479.2 1206.0,474.9 1207.0,448.5 1208.0,438.4 1209.0,452.4 1210.0,453.8 1211.0,453.9 1212.0,463.3 1213.0,467.6 1214.0,488.9 1215.0,512.3 1216.0,526.4 1217.0,536.9 1218.0,540.2 1219.0,538.7 1220.0,537.6 1221.0,547.6 1222.0,563.5 1223.0,579.0 1224.0,564.6 1225.0,558.3 1226.0,562.8 1227.0,570.0 1228.0,583.1 1229.0,610.5 1230.0,631.4 1231.0,641.7 1232.0,641.5 1233.0,635.3 1234.0,646.5 1235.0,662.0 1236.0,664.6 1237.0,657.2 1238.0,648.6 1239.0,663.5 1240.0,671.4 1241.0,673.2 1242.0,665.0 1243.0,652.5 1244.0,637.1 1245.0,626.5 1246.0,625.2 1247.0,628.0 1248.0,632.5 1249.0,658.8 1250.0,663.7 1251.0,669.8 1252.0,669.9 1253.0,681.1 1254.0,695.7 1255.0,705.6 1256.0,720.0 1257.0,731.8 1258.0,732.1 1259.0,728.7 1260.0,702.6 1261.0,700.7 1262.0,710.7 1263.0,720.7 1264.0,723.0 1265.0,734.4 1266.0,739.3 1267.0,760.2 1268.0,799.2 1269.0,824.8 1270.0,815.9 1271.0,807.7 1272.0,794.3 1273.0,790.3 1274.0,787.0 1275.0,780.0 1276.0,776.9 1277.0,773.3 1278.0,788.3 1279.0,786.6 1280.0,756.6 1281.0,719.9 1282.0,709.3 1283.0,692.0 1284.0,702.0 1285.0,717.5 1286.0,725.7 1287.0,711.7 1288.0,697.2 1289.0,715.6 1290.0,733.6 1291.0,763.8 1292.0,776.1 1293.0,792.7 1294.0,794.2 1295.0,784.6 1296.0,777.3 1297.0,771.2 1298.0,748.2 1299.0,726.9 1300.0,707.8 1301.0,723.3 1302.0,755.3 1303.0,769.9 1304.0,787.3 1305.0,767.6 1306.0,750.2 1307.0,751.1 1308.0,779.9 1309.0,789.4 1310.0,772.0 1311.0,758.2 1312.0,751.1 1313.0,746.7 1314.0,746.0 1315.0,732.2 1316.0,718.8 1317.0,700.0 1318.0,694.6 1319.0,693.7 1320.0,686.2 1321.0,675.0 1322.0,665.2 1323.0,668.7 1324.0,673.9 1325.0,683.5 1326.0,672.2 1327.0,682.1 1328.0,692.6 1329.0,709.1 1330.0,720.9 1331.0,727.3 1332.0,731.1 1333.0,743.9 1334.0,761.3 1335.0,750.2 1336.0,759.2 1337.0,752.4 1338.0,744.0 1339.0,741.5 1340.0,744.2 1341.0,741.1 1342.0,749.9 1343.0,762.7 1344.0,760.9 1345.0,769.6 1346.0,763.7 1347.0,760.1 1348.0,772.5 1349.0,785.7 1350.0,780.4 1351.0,765.7 1352.0,762.0 1353.0,790.1 1354.0,822.6 1355.0,886.0 1356.0,917.8 1357.0,926.6 1358.0,920.6 1359.0,905.0 1360.0,894.8 1361.0,898.2 1362.0,911.8 1363.0,921.8 1364.0,917.5 1365.0,923.6 1366.0,924.9 1367.0,922.5 1368.0,923.1 1369.0,929.8 1370.0,925.9 1371.0,908.6 1372.0,887.9 1373.0,880.6 1374.0,899.5 1375.0,913.2 1376.0,895.1 1377.0,883.4 1378.0,881.9 1379.0,878.1 1380.0,892.5 1381.0,912.9 1382.0,931.9 1383.0,992.6 1384.0,1052.9 1385.0,1085.1 1386.0,1115.5 1387.0,1141.2 1388.0,1154.3 1389.0,1124.6 1390.0,1106.1 1391.0,1101.6 1392.0,1089.4 1393.0,1085.6 1394.0,1088.2 1395.0,1100.7 1396.0,1106.3 1397.0,1116.1 1398.0,1127.7 1399.0,1131.9 1400.0,1113.5 1401.0,1102.1 1402.0,1095.8 1403.0,1083.0 1404.0,1066.3 1405.0,1067.8 1406.0,1083.0 1407.0,1094.4 1408.0,1092.2 1409.0,1080.6 1410.0,1076.6 1411.0,1072.7 1412.0,1035.9 1413.0,1004.1 1414.0,1005.2 1415.0,1022.1 1416.0,1024.7 1417.0,1028.2 1418.0,1038.6 1419.0,1045.2 1420.0,1003.4 1421.0,987.3 1422.0,990.9 1423.0,996.4 1424.0,1000.0 1425.0,1011.6 1426.0,1008.1 1427.0,1007.0 1428.0,1007.7 1429.0,997.6 1430.0,996.8 1431.0,993.5 1432.0,974.3 1433.0,968.2 1434.0,981.4 1435.0,984.7 1436.0,987.7 1437.0,1009.9 1438.0,1043.5 1439.0,1061.6 1440.0,1053.5 1441.0,1048.9 1442.0,1052.4 1443.0,1053.8 1444.0,1078.8 1445.0,1094.6 1446.0,1098.2 1447.0,1091.6 1448.0,1086.1 1449.0,1089.5 1450.0,1093.1 1451.0,1088.0 1452.0,1098.5 1453.0,1124.6 1454.0,1099.9 1455.0,1083.9 1456.0,1052.1 1457.0,1035.4 1458.0,1030.5 1459.0,1059.6 1460.0,1078.1 1461.0,1088.2 1462.0,1093.0 1463.0,1094.4 1464.0,1103.0 1465.0,1121.5 1466.0,1113.8 1467.0,1094.3 1468.0,1116.2 1469.0,1106.0 1470.0,1100.6 1471.0,1098.6 1472.0,1102.5 1473.0,1099.8 1474.0,1091.5 1475.0,1079.2 1476.0,1077.7 1477.0,1096.5 1478.0,1100.7 1479.0,1086.9 1480.0,1096.0 1481.0,1108.8 1482.0,1110.6 1483.0,1102.1 1484.0,1103.4 1485.0,1110.2 1486.0,1096.1 1487.0,1093.2 1488.0,1099.0 1489.0,1112.2 1490.0,1101.7 1491.0,1102.5 1492.0,1095.2 1493.0,1065.6 1494.0,1069.9 1495.0,1065.6 1496.0,1063.7 1497.0,1070.2 1498.0,1069.8 1499.0,1068.2 1500.0,1066.8 1501.0,1055.2 1502.0,1058.7 1503.0,1068.4 1504.0,1118.3 1505.0,1156.6 1506.0,1206.0 1507.0,1198.4 1508.0,1186.4 1509.0,1183.4 1510.0,1181.2 1511.0,1187.5 1512.0,1175.5 1513.0,1178.0 1514.0,1186.4 1515.0,1202.2 1516.0,1185.3 1517.0,1171.1 1518.0,1170.1 1519.0,1175.9 1520.0,1173.6 1521.0,1164.3 1522.0,1146.8 1523.0,1148.0 1524.0,1149.8 1525.0,1144.1 1526.0,1146.9 1527.0,1139.6 1528.0,1142.4 1529.0,1136.9 1530.0,1135.2 1531.0,1131.7 1532.0,1122.9 1533.0,1118.4 1534.0,1131.7 1535.0,1143.5 1536.0,1149.9 1537.0,1150.1 1538.0,1149.1 1539.0,1141.6 1540.0,1147.2 1541.0,1144.5 1542.0,1143.8 1543.0,1145.0 1544.0,1140.6 1545.0,1150.7 1546.0,1154.9 1547.0,1149.1 1548.0,1140.2 1549.0,1141.9 1550.0,1136.9 1551.0,1132.6 1552.0,1131.2 1553.0,1133.7 1554.0,1122.6 1555.0,1105.5 1556.0,1084.7 1557.0,1047.7 1558.0,1002.8 1559.0,1007.6 1560.0,1007.2 1561.0,1016.3 1562.0,1010.4 1563.0,970.1 1564.0,973.4 1565.0,962.2 1566.0,961.1 1567.0,957.1 1568.0,962.8 1569.0,959.7 1570.0,935.5 1571.0,963.9 1572.0,948.9 1573.0,949.0 1574.0,951.1 1575.0,955.1 1576.0,962.3 1577.0,966.2 1578.0,961.3 1579.0,984.8 1580.0,1000.2 1581.0,994.7 1582.0,993.3 1583.0,972.7 1584.0,959.7 1585.0,930.0 1586.0,924.8 1587.0,924.0 1588.0,918.9 1589.0,917.7 1590.0,933.7 1591.0,944.3 1592.0,955.6 1593.0,956.7 1594.0,944.1 1595.0,947.3 1596.0,953.2 1597.0,966.8 1598.0,980.2 1599.0,971.3 1600.0,981.1 1601.0,991.4 1602.0,1014.0 1603.0,1035.8 1604.0,1015.2 1605.0,960.8 1606.0,930.7 1607.0,930.0 1608.0,883.4 1609.0,864.4 1610.0,851.7 1611.0,847.6 1612.0,852.5 1613.0,860.1 1614.0,861.6 1615.0,858.9 1616.0,863.9 1617.0,866.9 1618.0,856.2 1619.0,849.5 1620.0,848.9 1621.0,846.6 1622.0,847.3 1623.0,850.6 1624.0,848.3 1625.0,851.8 1626.0,854.0 1627.0,840.8 1628.0,823.3 1629.0,804.0 1630.0,805.2 1631.0,800.9 1632.0,803.6 1633.0,805.6 1634.0,819.2 1635.0,835.4 1636.0,847.4 1637.0,858.6 1638.0,868.3 1639.0,858.4 1640.0,844.4 1641.0,826.2 1642.0,827.6 1643.0,834.6 1644.0,838.2 1645.0,844.7 1646.0,831.6 1647.0,823.8 1648.0,827.1 1649.0,835.1 1650.0,849.4 1651.0,856.4 1652.0,867.8 1653.0,871.8 1654.0,872.6 1655.0,881.4 1656.0,877.0 1657.0,873.4 1658.0,872.3 1659.0,880.5 1660.0,878.5 1661.0,872.0 1662.0,876.0 1663.0,889.6 1664.0,889.1 1665.0,881.5 1666.0,869.9 1667.0,856.2 1668.0,863.7 1669.0,867.8 1670.0,879.8 1671.0,876.6 1672.0,871.8 1673.0,885.2 1674.0,902.0 1675.0,887.2 1676.0,883.3 1677.0,897.4 1678.0,900.4 1679.0,899.4 1680.0,910.6 1681.0,921.8 1682.0,904.3 1683.0,897.1 1684.0,893.8 1685.0,861.1 1686.0,829.4 1687.0,812.3 1688.0,803.6 1689.0,804.7 1690.0,804.1 1691.0,804.8 1692.0,814.2 1693.0,812.1 1694.0,805.5 1695.0,797.0 1696.0,800.1 1697.0,807.2 1698.0,822.3 1699.0,823.9 1700.0,840.2 1701.0,831.9 1702.0,818.8 1703.0,842.4 1704.0,832.0 1705.0,820.4 1706.0,826.7 1707.0,828.5 1708.0,829.3 1709.0,828.6 1710.0,837.2 1711.0,833.7 1712.0,834.6 1713.0,839.2 1714.0,845.1 1715.0,839.4 1716.0,843.7 1717.0,835.9 1718.0,847.0 1719.0,833.5 1720.0,835.5 1721.0,847.9 1722.0,841.3 1723.0,839.4 1724.0,847.1 1725.0,847.5 1726.0,829.7 1727.0,831.3 1728.0,833.5 1729.0,833.3 1730.0,831.8 1731.0,857.3 1732.0,885.3 1733.0,901.6 1734.0,900.9 1735.0,904.1 1736.0,905.9 1737.0,895.4 1738.0,905.9 1739.0,903.4 1740.0,897.8 1741.0,884.6 1742.0,877.8 1743.0,889.3 1744.0,905.8 1745.0,911.5 1746.0,910.8 1747.0,909.6 1748.0,908.4 1749.0,903.8 1750.0,908.8 1751.0,917.2 1752.0,917.5 1753.0,931.4 1754.0,906.7 1755.0,890.2 1756.0,897.5 1757.0,896.8 1758.0,885.3 1759.0,880.0 1760.0,884.7 1761.0,885.8 1762.0,895.5 1763.0,897.1 1764.0,897.1 1765.0,894.0 1766.0,893.9 1767.0,880.8 1768.0,868.2 1769.0,866.7 1770.0,864.5 1771.0,858.6 1772.0,864.8 1773.0,865.0 1774.0,862.9 1775.0,870.6 1776.0,867.3 1777.0,887.6 1778.0,885.1 1779.0,882.3 1780.0,857.8 1781.0,845.3 1782.0,853.8 1783.0,850.2 1784.0,841.9 1785.0,826.7 1786.0,804.9 1787.0,755.7 1788.0,740.5 1789.0,749.5 1790.0,748.7 1791.0,747.0 1792.0,743.3 1793.0,739.6 1794.0,737.5 1795.0,733.8 1796.0,730.2 1797.0,741.9 1798.0,741.7 1799.0,741.8 1800.0,736.0 1801.0,711.0 1802.0,706.0 1803.0,726.2 1804.0,726.9 1805.0,710.4 1806.0,703.6 1807.0,715.0 1808.0,722.7 1809.0,720.4 1810.0,718.3 1811.0,711.3 1812.0,707.6 1813.0,708.3 1814.0,710.7 1815.0,709.3 1816.0,718.8 1817.0,715.7 1818.0,711.2 1819.0,700.0 1820.0,686.9 1821.0,660.9 1822.0,628.8 1823.0,623.8 1824.0,634.5 1825.0,637.3 1826.0,655.3 1827.0,670.8 1828.0,658.4 1829.0,649.5 1830.0,660.2 1831.0,667.3 1832.0,656.1 1833.0,649.3 1834.0,646.8 1835.0,652.8 1836.0,651.1 1837.0,653.1 1838.0,655.2 1839.0,658.9 1840.0,670.1 1841.0,666.3 1842.0,662.9 1843.0,647.0 1844.0,640.9 1845.0,644.0 1846.0,647.0 1847.0,644.4 1848.0,623.8 1849.0,616.9 1850.0,618.2 1851.0,622.1 1852.0,641.8 1853.0,666.5 1854.0,668.7 1855.0,671.8 1856.0,691.2 1857.0,687.3 1858.0,694.2 1859.0,708.4 1860.0,716.0 1861.0,721.3 1862.0,708.2 1863.0,696.7 1864.0,699.2 1865.0,680.6 1866.0,679.6 1867.0,688.1 1868.0,684.4 1869.0,688.1 1870.0,692.1 1871.0,688.7 1872.0,688.2 1873.0,667.6 1874.0,658.4 1875.0,646.3 1876.0,627.6 1877.0,616.7 1878.0,603.6 1879.0,600.3 1880.0,593.7 1881.0,595.1 1882.0,594.7 1883.0,606.5 1884.0,601.2 1885.0,615.7 1886.0,615.3 1887.0,612.6 1888.0,601.5 1889.0,579.3 1890.0,539.6 1891.0,513.5 1892.0,512.1 1893.0,509.6 1894.0,488.7 1895.0,489.7 1896.0,511.5 1897.0,498.3 1898.0,486.6 1899.0,474.6 1900.0,472.7 1901.0,475.6 1902.0,469.3 1903.0,487.1 1904.0,516.5 1905.0,551.8 1906.0,556.2 1907.0,541.1 1908.0,538.4 1909.0,546.4 1910.0,541.0 1911.0,518.8 1912.0,514.0 1913.0,509.0 1914.0,510.8 1915.0,505.2 1916.0,505.8 1917.0,527.1 1918.0,551.5 1919.0,537.3 1920.0,535.2 1921.0,527.8 1922.0,517.8 1923.0,511.0 1924.0,514.8 1925.0,536.8 1926.0,558.2 1927.0,563.7 1928.0,573.1 1929.0,587.3 1930.0,601.0 1931.0,587.4 1932.0,578.0 1933.0,571.8 1934.0,563.9 1935.0,562.4 1936.0,577.8 1937.0,585.0 1938.0,594.2 1939.0,594.3 1940.0,604.3 1941.0,630.4 1942.0,626.7 1943.0,589.9 1944.0,585.1 1945.0,591.3 1946.0,601.1 1947.0,610.1 1948.0,621.5 1949.0,619.4 1950.0,607.5 1951.0,614.7 1952.0,609.1 1953.0,579.2 1954.0,575.1 1955.0,567.6 1956.0,545.8 1957.0,540.1 1958.0,563.0 1959.0,562.7 1960.0,559.8 1961.0,562.1 1962.0,558.3 1963.0,560.5 1964.0,568.4 1965.0,567.3 1966.0,571.5 1967.0,570.3 1968.0,568.9 1969.0,555.5 1970.0,546.4 1971.0,551.4 1972.0,568.3 1973.0,564.7 1974.0,568.7 1975.0,582.5 1976.0,585.1 1977.0,589.2 1978.0,596.4 1979.0,591.2 1980.0,599.5 1981.0,612.9 1982.0,610.7 1983.0,615.2 1984.0,630.9 1985.0,638.5 1986.0,649.8 1987.0,653.3 1988.0,647.6 1989.0,643.6 1990.0,637.8 1991.0,638.3 1992.0,654.5 1993.0,677.8 1994.0,689.3 1995.0,691.9 1996.0,697.9 1997.0,699.9 1998.0,687.4 1999.0,688.0 2000.0,686.4 2001.0,658.0 2002.0,640.2 2003.0,628.6 2004.0,623.8 2005.0,611.0 2006.0,597.8 2007.0,593.7 2008.0,605.3 2009.0,619.5 2010.0,617.8 2011.0,606.8 2012.0,598.3 2013.0,596.9 2014.0,610.9 2015.0,615.2 2016.0,632.1 2017.0,650.9 2018.0,666.1 2019.0,702.0 2020.0,733.6 2021.0,728.1 2022.0,664.5 2023.0,665.4 2024.0,673.6 2025.0,683.9 2026.0,667.2 2027.0,690.4 2028.0,692.3 2029.0,685.9 2030.0,683.4 2031.0,681.0 2032.0,678.1 2033.0,665.0 2034.0,648.8 2035.0,643.8 2036.0,647.9 2037.0,667.6 2038.0,680.4 2039.0,681.3 2040.0,692.4 2041.0,690.0 2042.0,687.2 2043.0,697.4 2044.0,718.4 2045.0,735.6 2046.0,737.8 2047.0,729.8 2048.0,711.4 2049.0,705.5 2050.0,684.6 2051.0,672.8 2052.0,685.8 2053.0,693.5 2054.0,677.1 2055.0,654.0 2056.0,649.4 2057.0,650.3 2058.0,655.7 2059.0,657.7 2060.0,647.3 2061.0,631.4 2062.0,629.6 2063.0,640.0 2064.0,638.5 2065.0,650.9 2066.0,671.7 2067.0,674.9 2068.0,666.0 2069.0,663.6 2070.0,672.3 2071.0,674.0 2072.0,680.0 2073.0,691.8 2074.0,672.1 2075.0,651.4 2076.0,636.6 2077.0,631.6 2078.0,622.5 2079.0,620.3 2080.0,613.5 2081.0,616.5 2082.0,614.7 2083.0,625.7 2084.0,635.0 2085.0,631.3 2086.0,633.1 2087.0,622.4 2088.0,598.0 2089.0,601.4 2090.0,603.5 2091.0,616.2 2092.0,638.0 2093.0,643.2 2094.0,612.5 2095.0,588.3 2096.0,584.7 2097.0,561.5 2098.0,528.2 2099.0,499.8 2100.0,493.6 2101.0,494.2 2102.0,501.5 2103.0,495.2 2104.0,507.0 2105.0,506.4 2106.0,473.2 2107.0,464.7 2108.0,474.3 2109.0,481.6 2110.0,504.6 2111.0,511.3 2112.0,482.8 2113.0,487.4 2114.0,494.4 2115.0,502.6 2116.0,497.2 2117.0,493.4 2118.0,495.5 2119.0,492.4 2120.0,488.9 2121.0,496.2 2122.0,501.3 2123.0,519.8 2124.0,502.1 2125.0,491.2 2126.0,482.9 2127.0,472.8 2128.0,475.1 2129.0,494.3 2130.0,519.1 2131.0,533.3 2132.0,534.4 2133.0,544.6 2134.0,528.7 2135.0,533.7 2136.0,548.8 2137.0,562.2 2138.0,564.9 2139.0,562.5 2140.0,565.1 2141.0,555.4 2142.0,538.9 2143.0,527.5 2144.0,522.2 2145.0,556.9 2146.0,574.9 2147.0,576.5 2148.0,573.4 2149.0,563.8 2150.0,558.9 2151.0,546.0 2152.0,538.5 2153.0,529.3 2154.0,519.7 2155.0,521.6 2156.0,514.0 2157.0,518.7 2158.0,520.9 2159.0,526.7 2160.0,527.6 2161.0,537.0 2162.0,534.8 2163.0,529.0 2164.0,545.5 2165.0,540.7 2166.0,552.3 2167.0,559.3 2168.0,569.3 2169.0,577.3 2170.0,582.0 2171.0,583.4 2172.0,575.1 2173.0,583.2 2174.0,585.5 2175.0,585.7 2176.0,582.8 2177.0,588.9 2178.0,589.1 2179.0,586.2 2180.0,584.7 2181.0,584.2 2182.0,584.2 2183.0,598.5 2184.0,617.6 2185.0,637.6 2186.0,661.2 2187.0,650.1 2188.0,624.1 2189.0,615.2 2190.0,637.9 2191.0,655.2 2192.0,632.8 2193.0,654.9 2194.0,685.6 2195.0,703.5 2196.0,696.0 2197.0,678.7 2198.0,690.6 2199.0,679.8 2200.0,672.4 2201.0,671.9 2202.0,677.3 2203.0,671.3 2204.0,655.7 2205.0,662.0 2206.0,655.9 2207.0,651.6 2208.0,656.7 2209.0,664.8 2210.0,671.9 2211.0,681.9 2212.0,679.2 2213.0,671.9 2214.0,669.7 2215.0,679.0 2216.0,696.9 2217.0,707.2 2218.0,727.0 2219.0,718.7 2220.0,688.6 2221.0,671.3 2222.0,667.8 2223.0,676.3 2224.0,671.0 2225.0,676.2 2226.0,673.4 2227.0,673.2 2228.0,664.5 2229.0,641.8 2230.0,619.2 2231.0,615.8 2232.0,608.9 2233.0,606.8 2234.0,616.1 2235.0,612.7 2236.0,611.4 2237.0,609.0 2238.0,594.4 2239.0,611.6 2240.0,607.0 2241.0,600.8 2242.0,592.6 2243.0,562.8 2244.0,558.8 2245.0,565.9 2246.0,568.6 2247.0,564.4 2248.0,567.1 2249.0,569.1 2250.0,561.2 2251.0,559.5 2252.0,551.0 2253.0,540.1 2254.0,536.6 2255.0,550.5 2256.0,547.4 2257.0,546.8 2258.0,553.9 2259.0,565.4 2260.0,578.4 2261.0,579.4 2262.0,575.9 2263.0,574.6 2264.0,575.0 2265.0,585.4 2266.0,600.1 2267.0,580.7 2268.0,564.4 2269.0,558.4 2270.0,569.8 2271.0,582.2 2272.0,573.8 2273.0,580.5 2274.0,582.4 2275.0,587.2 2276.0,596.9 2277.0,589.3 2278.0,608.2 2279.0,615.8 2280.0,609.5 2281.0,584.3 2282.0,585.3 2283.0,588.4 2284.0,584.0 2285.0,582.2 2286.0,588.9 2287.0,598.2 2288.0,585.2 2289.0,586.7 2290.0,588.8 2291.0,583.4 2292.0,591.1 2293.0,571.9 2294.0,553.7 2295.0,546.9 2296.0,541.1 2297.0,541.2 2298.0,543.7 2299.0,544.9 2300.0,548.2 2301.0,552.7 2302.0,555.5 2303.0,554.2 2304.0,551.2 2305.0,552.7 2306.0,558.9 2307.0,555.2 2308.0,551.0 2309.0,564.4 2310.0,561.5 2311.0,570.1 2312.0,599.1 2313.0,586.0 2314.0,589.0 2315.0,576.2 2316.0,570.9 2317.0,573.7 2318.0,575.4 2319.0,565.1 2320.0,557.1 2321.0,542.5 2322.0,551.8 2323.0,568.0 2324.0,571.9 2325.0,577.9 2326.0,590.6 2327.0,596.0 2328.0,588.6 2329.0,579.3 2330.0,600.1 2331.0,602.1 2332.0,613.5 2333.0,608.6 2334.0,617.6 2335.0,627.5 2336.0,625.0 2337.0,622.1 2338.0,615.6 2339.0,613.8 2340.0,624.6 2341.0,619.3 2342.0,622.8 2343.0,617.4 2344.0,604.2 2345.0,599.0 2346.0,603.5 2347.0,596.5 2348.0,592.5 2349.0,602.0 2350.0,598.2 2351.0,597.4 2352.0,606.6 2353.0,611.9 2354.0,610.8 2355.0,616.3 2356.0,632.3 2357.0,640.9 2358.0,633.8 2359.0,627.9 2360.0,606.5 2361.0,595.2 2362.0,592.5 2363.0,578.7 2364.0,577.2 2365.0,573.0 2366.0,574.6 2367.0,586.7 2368.0,596.7 2369.0,632.3 2370.0,628.8 2371.0,629.8 2372.0,631.9 2373.0,647.0 2374.0,658.2 2375.0,668.7 2376.0,659.4 2377.0,649.6" fill="none" stroke="#4636c6" stroke-width="4.7" stroke-linejoin="round"/>
  <polyline points="131.7,979.2 133.8,983.3 134.7,990.0 136.3,1011.7 138.0,1016.7 138.8,1036.7 140.5,1051.7 142.2,1030.0 143.0,1046.7 144.7,1061.7 146.3,1046.7 148.0,1050.0 149.7,1013.3 151.3,1008.3 152.7,996.7 153.8,1011.7 155.5,983.3 157.2,978.3 158.8,980.0 159.7,956.7 161.3,975.0 163.0,965.0 164.7,970.0 166.7,955.0 168.0,950.8 169.7,961.7 172.2,970.0 173.8,995.0 175.5,986.7 178.0,1006.7 180.5,991.7 183.0,1025.0 185.5,1030.0 187.2,1041.7 188.8,1023.3 191.3,1020.0 193.8,1026.7 195.5,1020.0 198.0,1050.0 199.7,1075.0 201.3,1065.0 203.8,1068.3 205.5,1056.7 207.2,1086.7 208.8,1076.7 210.5,1083.3 212.2,1095.0 213.8,1073.3 215.5,1061.7 217.2,1060.0 218.8,1056.7 221.3,1071.7 223.8,1076.7 225.5,1075.0 227.2,1036.7 228.8,1028.3 230.5,1030.0 232.2,1003.3 233.0,995.0 234.7,1008.3 236.3,1001.7 238.8,1013.3 241.3,1033.3 243.8,1050.0 245.5,1073.3 247.2,1080.0 249.7,1075.0 252.2,1065.0 253.8,1076.7 256.3,1066.7 258.8,1056.7 261.3,1043.3 263.8,1041.7 265.5,1033.3 267.2,1033.3 268.8,1066.7 271.3,1078.3 273.8,1066.7 276.3,1066.7 278.0,1076.7 280.5,1056.7 283.0,1058.3 284.7,1066.7 288.0,1060.0 290.5,1065.0 293.0,1062.5 295.5,1060.0 297.2,1078.3 298.8,1078.3 300.5,1066.7 302.2,1061.7 304.7,1065.8 307.2,1066.7 309.7,1069.2 312.2,1074.2 314.7,1069.2 317.2,1068.3 318.8,1064.2 320.5,1070.0 323.0,1070.0 325.0,1101.7 327.7,1108.3 329.7,1163.3 332.2,1180.0 333.8,1213.3 335.5,1196.7 337.2,1181.7 338.8,1195.0 340.5,1206.7 342.2,1226.7 343.8,1241.7 345.5,1243.3 347.2,1248.3 349.3,1260.8 351.3,1238.3 353.8,1193.3 356.3,1206.7 358.0,1200.0 359.7,1230.0 361.3,1201.7 363.8,1215.0 366.3,1200.0 368.8,1196.7 370.5,1223.3 373.0,1226.7 375.5,1225.0 378.0,1228.3 380.5,1231.7 383.0,1230.0 385.5,1241.7 388.0,1233.3 390.5,1240.0 392.2,1245.0 394.7,1230.0 397.2,1220.0 399.7,1230.0 402.2,1213.3 404.7,1203.3 406.7,1186.7 408.0,1210.0 410.5,1208.3 413.8,1218.3 417.2,1206.7 419.7,1205.0 423.0,1196.7 426.3,1195.0 429.7,1200.0 432.2,1203.3 434.7,1190.0 437.2,1146.7 439.7,1140.0 442.2,1123.3 443.8,1123.3 446.3,1133.3 448.0,1133.3 462.2,1100.0 463.8,1090.0 465.5,1088.3 467.2,1076.7 468.3,1060.0 470.5,1026.7 471.3,1006.7 472.7,1003.3 473.8,1020.0 475.0,1035.0 476.3,1006.7 478.0,1021.7 479.7,1003.3 481.3,986.7 483.0,983.3 484.7,998.3 486.3,985.0 488.0,1020.0 489.7,1010.0 491.7,1013.3 493.0,1021.7 494.7,1006.7 496.3,986.7 498.0,976.7 499.7,973.3 501.3,966.7 503.0,943.3 504.7,926.7 506.3,876.7 508.0,903.3 509.7,930.0 512.2,898.3 513.8,918.3 516.3,885.0 518.0,901.7 519.7,910.0 521.3,943.3 523.0,963.3 524.7,930.0 526.3,938.3 528.0,951.7 530.5,955.0 533.0,960.0 534.7,948.3 536.3,923.3 538.8,901.7 540.5,896.7 543.0,910.0 544.7,918.3 546.3,945.0 548.0,938.3 549.7,923.3 551.3,941.7 553.8,940.0 556.3,953.3 558.8,960.0 561.3,931.7 563.8,933.3 567.2,943.3 569.7,936.7 573.0,940.0 576.3,943.3 578.0,953.3 579.7,986.7 581.3,1006.7 583.8,996.7 586.3,1001.7 588.8,1013.3 591.3,990.0 593.8,998.3 596.3,998.3 598.8,1008.3 600.5,1003.3 603.0,1028.3 604.7,976.7 606.3,960.0 608.0,966.7 609.7,966.7 612.2,964.2 614.7,968.3 616.3,981.7 618.0,980.0 619.7,985.0 622.2,993.3 624.7,1005.0 626.3,1020.0 628.0,1046.7 629.7,1036.7 631.3,1023.3 633.0,1018.3 634.7,1031.7 636.3,1036.7 638.0,1026.7 639.7,1028.3 641.3,1036.7 643.0,1035.0 645.0,1040.0 647.2,1060.0 648.8,1035.0 650.5,1036.7 652.2,1026.7 653.8,1036.7 656.3,1033.3 658.0,1036.7 660.5,1046.7 662.2,1033.3 663.8,1006.7 665.5,1013.3 667.2,1005.0 668.8,1013.3 670.5,983.3 673.0,980.0 674.7,986.7 676.3,991.7 678.8,998.3 680.5,970.0 682.7,963.3 684.7,966.7 686.3,970.0 688.0,956.7 690.5,946.7 693.0,938.3 695.5,940.0 697.2,950.0 698.8,956.7 701.3,950.0 703.0,948.3 704.7,970.0 706.3,986.7 708.0,990.0 709.7,980.0 712.2,973.3 713.8,1003.3 715.5,1013.3 716.7,1070.0 718.0,1146.7 719.7,1120.0 721.0,1136.7 723.0,1078.3 724.7,1095.0 727.2,1056.7 729.7,1063.3 731.3,1093.3 733.0,1070.0 734.7,1055.0 737.2,1046.7 738.8,1033.3 741.3,1050.0 743.8,1051.7 745.5,1060.0 747.2,1040.0 749.3,1051.7 751.3,1028.3 753.8,1020.0 756.3,986.7 758.8,978.3 761.3,965.0 763.0,948.3 765.5,963.3 767.2,988.3 768.0,980.0 769.7,956.7 771.3,963.3 773.8,971.7 775.5,983.3 777.2,976.7 778.8,960.0 781.3,956.7 783.0,941.7 784.7,953.3 786.3,955.0 788.8,950.0 790.5,966.7 793.0,960.0 795.5,963.3 798.0,966.7 799.7,956.7 801.3,968.3 803.8,975.0 806.3,971.7 808.8,973.3 811.0,965.0 813.0,963.3 815.5,968.3 818.0,970.0 820.5,971.7 823.0,970.0 825.5,958.3 827.2,943.3 828.8,920.0 831.0,916.7 832.2,901.7 833.8,916.7 835.5,903.3 838.0,906.7 840.0,900.0 841.7,910.0 843.8,900.0 845.0,890.0 846.3,900.0 848.8,903.3 850.5,906.7 852.2,911.7 853.8,908.3 855.5,905.0 858.0,898.3 859.3,941.7 861.3,936.7 863.0,941.7 865.5,938.3 868.0,935.0 869.7,923.3 872.2,918.3 874.7,938.3 876.3,926.7 878.8,926.7 881.3,925.0 883.8,930.0 886.3,930.0 888.0,920.0 890.5,910.0 893.0,906.7 895.5,911.7 898.0,880.0 899.7,875.0 903.0,868.3 905.5,860.0 908.0,853.3 909.7,840.0 911.3,826.7 913.8,820.0 915.5,813.3 918.0,816.7 919.7,791.7 921.3,786.7 923.8,775.0 925.5,768.3 927.2,793.3 928.0,798.3 929.3,760.6 932.0,771.2 934.6,768.5 938.0,784.4 941.2,763.2 943.8,723.6 946.5,707.8 949.1,710.4 951.8,673.5 954.4,652.3 957.0,620.7 959.7,583.7 961.8,562.6 965.0,604.8 967.1,573.1 970.2,599.5 972.9,620.7 975.5,628.6 977.6,639.1 979.5,604.8 982.1,583.7 984.8,567.9 986.6,530.9 989.3,517.7 992.7,509.8 995.3,488.6 997.2,467.5 999.3,504.5 1001.9,523.0 1004.0,507.1 1007.2,501.8 1009.8,472.8 1013.0,449.0 1015.7,464.9 1019.1,462.2 1021.7,486.0 1023.6,493.9 1026.2,464.9 1029.7,459.6 1032.3,467.5 1034.9,459.6 1037.6,446.4 1039.4,438.5 1042.1,446.4 1044.7,472.8 1048.1,504.5 1050.8,478.1 1053.4,462.2 1056.1,478.1 1058.7,459.6 1061.3,472.8 1064.0,504.5 1066.6,552.0 1068.5,583.7 1070.6,599.5 1073.2,573.1 1075.9,589.0 1079.0,573.1 1081.7,599.5 1083.8,610.1 1086.4,583.7 1088.0,578.4 1089.9,567.2 1091.9,592.5 1093.8,598.3 1095.4,629.4 1097.3,604.1 1098.7,627.4 1101.2,594.4 1103.2,610.0 1105.5,600.2 1107.4,610.0 1110.4,608.0 1112.3,619.7 1115.2,629.4 1118.1,644.9 1120.1,623.6 1123.0,580.8 1124.9,565.2 1126.5,551.6 1128.4,565.2 1129.8,575.0 1131.7,547.7 1133.7,526.4 1135.6,532.2 1137.6,516.6 1139.5,528.3 1142.0,530.2 1144.4,506.9 1146.3,508.9 1148.3,518.6 1150.2,508.9 1152.5,516.6 1155.1,503.0 1157.0,489.4 1159.0,518.6 1160.9,530.2 1163.4,522.5 1165.8,512.8 1167.7,516.6 1169.6,555.5 1171.6,536.1 1173.5,551.6 1175.5,555.5 1177.4,512.8 1180.3,485.5 1182.3,477.8 1184.2,473.9 1186.2,466.1 1189.1,446.7 1192.0,427.2 1194.5,444.7 1196.9,438.9 1198.8,456.4 1200.8,442.8 1203.7,438.9 1205.6,444.7 1207.6,421.4 1210.5,427.2 1213.4,431.1 1215.3,450.5 1217.3,462.2 1219.2,458.3 1221.2,464.2 1223.1,477.8 1225.1,464.2 1227.6,470.0 1229.5,499.1 1231.5,505.0 1233.4,501.1 1235.7,516.6 1238.1,508.9 1240.6,524.4 1243.5,506.9 1245.5,499.1 1248.0,501.1 1249.6,521.4 1251.9,519.4 1253.8,531.1 1256.7,552.5 1258.7,548.6 1260.6,538.9 1263.6,546.7 1266.5,554.4 1269.0,599.1 1271.3,585.5 1274.2,577.8 1277.2,573.9 1278.7,585.5 1280.7,552.5 1283.0,536.9 1285.9,550.5 1288.4,535.0 1290.8,564.2 1293.1,583.6 1295.6,575.8 1297.6,564.2 1300.1,536.9 1302.4,568.0 1304.4,575.8 1306.3,552.5 1308.7,577.8 1311.2,560.3 1314.1,552.5 1317.0,538.9 1319.9,527.2 1321.9,517.5 1324.8,525.3 1326.7,523.3 1329.6,544.7 1332.6,552.5 1333.5,566.1 1336.5,560.3 1339.4,556.4 1342.3,564.2 1345.2,571.9 1347.1,568.0 1349.1,579.7 1352.0,568.0 1353.9,597.2 1355.3,636.1 1356.9,651.6 1359.8,634.1 1362.7,643.9 1364.6,651.6 1367.0,643.9 1369.5,655.5 1372.4,628.3 1374.7,645.8 1377.3,634.1 1379.2,632.2 1382.1,659.4 1384.1,723.6 1386.0,748.8 1388.0,768.3 1389.9,746.9 1392.8,737.2 1395.7,750.8 1398.7,766.3 1401.6,752.7 1404.5,735.2 1406.4,748.8 1408.0,752.7 1409.2,746.2 1411.1,745.0 1413.0,713.8 1414.9,720.0 1416.8,725.0 1418.6,738.8 1420.5,707.5 1422.4,712.5 1424.9,717.5 1426.8,721.2 1428.6,712.5 1430.5,712.5 1433.0,701.2 1434.9,703.8 1436.8,715.0 1438.6,743.8 1439.9,736.2 1442.4,736.2 1444.2,752.5 1445.5,761.2 1447.4,752.5 1449.9,757.5 1451.8,760.0 1453.0,772.5 1454.9,756.2 1456.1,737.5 1457.8,725.0 1459.2,752.5 1460.5,755.0 1461.8,760.0 1463.6,763.8 1465.2,777.5 1466.8,765.0 1468.0,772.5 1469.9,767.5 1471.8,765.0 1473.0,768.8 1475.5,751.2 1477.4,763.8 1479.2,765.0 1481.1,768.8 1483.0,766.2 1484.9,768.8 1486.8,762.5 1488.6,768.8 1490.5,765.0 1491.8,761.2 1493.6,746.2 1495.5,747.5 1497.4,745.0 1499.2,751.2 1501.1,738.8 1503.0,750.0 1504.2,780.0 1505.2,792.5 1506.1,818.8 1508.0,805.0 1509.9,803.8 1511.8,807.5 1513.6,806.2 1514.9,820.0 1516.8,808.8 1518.6,810.0 1520.5,811.2 1522.4,797.5 1524.2,801.2 1526.8,797.5 1529.2,798.8 1531.1,795.0 1532.8,787.5 1534.2,800.0 1536.1,807.5 1538.0,802.5 1540.5,805.0 1542.4,802.5 1544.9,807.5 1546.8,807.5 1549.2,805.0 1551.8,800.0 1554.2,795.0 1556.1,772.5 1558.0,741.2 1559.9,740.0 1561.8,742.5 1563.0,721.2 1564.9,718.8 1568.0,716.2 1569.9,708.8 1571.1,718.8 1572.4,708.8 1574.2,712.5 1576.1,716.2 1578.0,718.8 1579.9,733.8 1581.8,732.5 1583.6,720.0 1584.9,701.2 1586.8,698.8 1588.6,697.5 1590.5,708.8 1592.4,715.0 1594.2,711.2 1596.1,713.8 1598.0,725.0 1599.9,725.0 1601.8,737.5 1603.0,755.0 1604.2,738.8 1605.5,703.8 1607.0,698.8 1608.0,675.0 1609.9,665.0 1611.8,662.5 1613.6,667.5 1615.5,665.0 1616.8,671.2 1618.0,661.2 1619.9,658.8 1621.8,662.5 1623.6,662.5 1625.5,663.8 1627.4,655.0 1629.0,641.2 1631.1,640.0 1633.0,641.2 1634.2,650.0 1636.1,662.5 1637.4,671.2 1639.2,666.2 1641.1,650.0 1643.0,656.2 1644.9,661.2 1646.1,653.8 1648.0,650.0 1649.9,660.0 1651.8,667.5 1653.6,675.0 1655.5,672.5 1657.4,670.0 1659.9,675.0 1661.8,672.5 1663.6,680.0 1665.5,673.8 1667.0,662.5 1668.6,670.0 1670.5,675.0 1672.4,671.2 1674.0,686.2 1675.5,672.5 1677.4,683.8 1679.2,685.0 1681.1,692.5 1682.4,682.5 1684.2,678.8 1686.1,643.8 1688.0,636.2 1689.9,635.0 1691.8,641.2 1693.6,637.5 1695.5,630.0 1697.4,640.0 1699.2,647.5 1700.5,655.0 1701.8,641.2 1703.0,651.2 1704.9,642.5 1707.4,645.0 1709.9,647.5 1711.8,643.8 1713.0,651.2 1715.5,651.2 1718.0,650.0 1719.9,647.5 1721.8,652.5 1724.2,652.5 1726.1,646.2 1728.0,648.8 1730.5,650.0 1732.7,680.0 1734.7,681.7 1737.2,679.2 1739.7,682.5 1742.2,665.0 1743.8,683.3 1746.3,684.2 1748.8,680.8 1751.0,686.7 1753.0,691.7 1754.7,680.0 1757.2,676.7 1759.7,670.0 1762.2,678.3 1764.7,680.0 1767.2,671.7 1768.8,663.3 1771.3,665.0 1773.8,663.3 1776.3,670.0 1778.8,675.0 1780.5,658.3 1783.0,656.7 1785.5,645.0 1787.2,605.0 1789.7,608.3 1792.2,603.3 1794.7,598.3 1797.2,601.7 1799.7,600.0 1801.3,585.0 1803.8,593.3 1805.5,580.0 1807.7,590.0 1809.7,586.7 1811.3,581.7 1813.8,580.0 1816.3,581.7 1818.8,576.7 1820.5,560.0 1822.2,538.3 1823.8,538.3 1825.5,545.0 1827.2,555.0 1829.7,545.0 1831.3,553.3 1833.8,540.0 1836.3,543.3 1838.8,545.0 1841.3,548.3 1843.8,533.3 1846.3,540.0 1848.8,520.0 1851.3,523.3 1853.0,543.3 1855.5,545.0 1858.0,553.3 1860.5,566.7 1863.0,553.3 1865.5,543.3 1868.0,545.0 1871.3,545.0 1873.8,528.3 1876.3,510.0 1878.8,493.3 1881.3,491.7 1883.8,491.7 1886.3,498.3 1888.0,486.7 1889.5,467.5 1890.4,442.2 1892.4,442.2 1894.3,416.9 1895.8,430.5 1897.7,416.9 1899.7,407.2 1901.6,397.5 1903.1,409.2 1904.5,426.7 1906.5,443.2 1907.4,420.8 1909.4,434.4 1911.3,411.1 1913.8,409.2 1916.2,405.3 1918.1,427.6 1920.1,416.9 1922.5,403.3 1924.5,410.1 1926.4,426.7 1928.3,434.4 1930.3,446.1 1932.2,430.5 1934.5,422.8 1936.1,434.4 1938.5,438.3 1940.0,442.2 1941.5,459.7 1943.4,434.4 1945.4,440.3 1947.8,448.0 1950.2,446.1 1952.2,440.3 1953.1,426.7 1955.1,424.7 1956.5,404.3 1958.0,416.9 1959.9,415.0 1961.9,413.0 1963.8,416.9 1965.8,418.9 1967.7,416.9 1969.2,405.3 1970.6,407.2 1972.6,411.1 1974.5,416.9 1975.5,420.8 1977.4,424.7 1979.4,424.7 1980.8,430.5 1983.3,435.4 1984.7,442.2 1986.2,450.0 1988.1,448.0 1990.1,440.3 1991.5,446.1 1993.0,459.7 1994.9,467.5 1996.4,471.4 1997.8,463.6 1999.8,462.6 2001.7,440.3 2003.7,432.5 2005.6,420.8 2007.1,416.9 2009.0,428.6 2011.5,421.8 2012.9,416.9 2014.4,424.7 2016.3,431.5 2018.3,451.9 2019.7,480.1 2021.2,475.3 2022.1,446.1 2024.1,453.9 2026.0,451.0 2027.5,462.6 2028.9,455.8 2030.9,455.8 2032.8,448.0 2034.3,434.4 2035.8,436.4 2037.7,453.9 2039.6,455.8 2041.6,457.8 2043.5,465.5 2045.5,481.1 2048.0,467.5 2049.5,460.3 2051.4,449.6 2053.3,460.3 2055.3,438.9 2057.9,435.9 2060.2,434.3 2062.5,426.7 2064.5,432.8 2066.3,449.6 2068.6,440.5 2070.9,445.0 2072.8,451.1 2074.7,438.9 2076.7,422.1 2079.3,416.0 2081.6,414.5 2083.9,423.6 2086.2,420.6 2088.5,400.7 2090.8,411.4 2093.1,419.1 2094.6,394.6 2096.6,385.4 2097.7,365.6 2098.7,345.7 2100.7,339.6 2103.0,341.1 2104.8,338.1 2106.8,315.1 2109.1,321.3 2110.7,333.5 2112.2,319.7 2115.2,319.7 2118.3,313.6 2120.6,309.0 2122.9,319.7 2124.4,309.0 2126.7,296.8 2128.2,295.3 2130.5,316.7 2132.8,322.8 2134.3,315.1 2136.6,325.8 2138.9,332.0 2141.2,319.7 2144.0,306.0 2145.8,328.9 2148.1,325.8 2150.4,315.1 2153.4,301.4 2156.2,295.3 2158.8,299.9 2161.1,302.9 2163.4,299.9 2165.7,309.0 2167.2,318.2 2170.2,321.3 2173.3,319.7 2176.4,322.8 2178.7,322.8 2180.9,318.2 2183.2,324.3 2184.8,344.2 2186.3,357.9 2188.6,328.9 2190.9,351.8 2192.4,341.1 2194.7,377.8 2197.0,364.0 2199.3,362.5 2202.3,359.5 2203.9,354.9 2206.2,351.8 2208.0,350.3 2209.8,359.8 2211.5,364.6 2213.3,356.3 2215.1,362.2 2216.9,378.7 2218.6,385.8 2219.8,364.6 2221.6,355.1 2223.3,359.8 2225.7,358.7 2228.1,356.3 2229.8,330.3 2231.6,326.8 2234.0,328.0 2236.3,326.8 2238.1,320.9 2239.9,326.8 2241.6,319.7 2243.4,300.8 2245.8,303.2 2248.1,303.2 2250.5,297.3 2252.3,289.0 2254.0,280.8 2255.2,291.4 2257.0,286.7 2258.8,291.4 2260.5,299.6 2262.3,296.1 2264.1,296.1 2265.8,306.7 2267.6,291.4 2269.1,284.3 2270.6,294.9 2272.3,294.9 2274.1,294.9 2275.9,298.5 2277.6,302.0 2279.4,307.9 2281.2,293.7 2283.5,291.4 2285.9,289.0 2287.1,294.9 2288.9,287.8 2291.8,287.8 2293.6,272.5 2295.3,264.2 2297.7,261.9 2300.1,265.4 2302.4,266.6 2304.2,261.9 2306.0,265.4 2308.3,263.1 2310.1,269.0 2311.9,277.2 2313.1,278.4 2314.8,273.7 2316.6,269.0 2318.4,265.4 2320.1,261.9 2321.6,253.6 2323.1,265.4 2324.9,267.8 2326.6,277.2 2328.4,269.0 2330.2,274.9 2331.3,284.3 2333.1,279.6 2334.9,289.0 2336.7,286.7 2337.8,280.8 2340.2,284.3 2342.6,280.8 2344.9,271.3 2347.3,269.0 2349.6,267.8 2352.0,271.3 2354.4,277.2 2356.7,286.7 2359.1,277.2 2361.4,260.7 2363.8,252.4 2365.6,250.1 2367.3,256.0 2369.1,277.2 2370.3,274.9 2372.1,277.2 2373.3,284.3 2375.0,292.6 2376.2,286.7 2377.4,280.8" fill="none" stroke="#f4f3f8" stroke-width="2.3" stroke-linejoin="round"/>
</svg>
<div class="t" style="left:906px;top:129px;font-size:32px;color:#f4f3f8;letter-spacing:-0.6px;">Price USD</div>
<div class="t" style="left:1126px;top:129px;font-size:32px;color:#f4f3f8;letter-spacing:-0.9px;">MVRV Ratio</div>
<div class="t" style="left:1369px;top:129px;font-size:32px;color:#f4f3f8;letter-spacing:-0.2px;">MVRV Ratio-SMA(365)</div>
<div class="t" style="right:2466px;top:231px;font-size:32px;color:#f4f3f8;">4</div>
<div class="t" style="right:2466px;top:398px;font-size:32px;color:#f4f3f8;">3</div>
<div class="t" style="right:2466px;top:1034px;font-size:32px;color:#f4f3f8;">1</div>
<div class="t" style="right:2466px;top:1095px;font-size:32px;color:#f4f3f8;">0.9</div>
<div class="t" style="right:2466px;top:1163px;font-size:32px;color:#f4f3f8;">0.8</div>
<div class="t" style="right:2466px;top:1240px;font-size:32px;color:#f4f3f8;">0.7</div>
<div class="t" style="left:41px;top:628px;width:78px;height:54px;background:#4e34e6;"></div>
<div class="t" style="left:55px;top:639px;font-size:32px;color:#f4f3f8;letter-spacing:-1.5px;">1.9*</div>
<div class="t" style="left:2415px;top:294px;font-size:32px;color:#f4f3f8;">$100K</div>
<div class="t" style="left:2415px;top:356px;font-size:32px;color:#f4f3f8;">$80K</div>
<div class="t" style="left:2415px;top:435px;font-size:32px;color:#f4f3f8;">$60K</div>
<div class="t" style="left:2415px;top:547px;font-size:32px;color:#f4f3f8;">$40K</div>
<div class="t" style="left:2415px;top:739px;font-size:32px;color:#f4f3f8;">$20K</div>
<div class="t" style="left:2415px;top:931px;font-size:32px;color:#f4f3f8;">$10K</div>
<div class="t" style="left:2415px;top:992px;font-size:32px;color:#f4f3f8;">$8K</div>
<div class="t" style="left:2415px;top:1072px;font-size:32px;color:#f4f3f8;">$6K</div>
<div class="t" style="left:2415px;top:1184px;font-size:32px;color:#f4f3f8;">$4K</div>
<div class="t" style="left:2392px;top:250px;width:140px;height:54px;background:#f4f3f8;"></div>
<div class="t" style="left:2399px;top:262px;font-size:31px;color:#111;">$111.4K</div>
<div class="t" style="left:114.80000000000001px;width:200px;text-align:center;top:1339px;font-size:27px;color:#a9a7b1;">2018 Jul</div>
<div class="t" style="left:263.9136px;width:200px;text-align:center;top:1339px;font-size:27px;color:#a9a7b1;">2019 Jan</div>
<div class="t" style="left:410.596px;width:200px;text-align:center;top:1339px;font-size:27px;color:#a9a7b1;">2019 Jul</div>
<div class="t" style="left:559.7096px;width:200px;text-align:center;top:1339px;font-size:27px;color:#a9a7b1;">2020 Jan</div>
<div class="t" style="left:707.2024000000001px;width:200px;text-align:center;top:1339px;font-size:27px;color:#a9a7b1;">2020 Jul</div>
<div class="t" style="left:856.316px;width:200px;text-align:center;top:1339px;font-size:27px;color:#a9a7b1;">2021 Jan</div>
<div class="t" style="left:1002.9984px;width:200px;text-align:center;top:1339px;font-size:27px;color:#a9a7b1;">2021 Jul</div>
<div class="t" style="left:1152.1119999999999px;width:200px;text-align:center;top:1339px;font-size:27px;color:#a9a7b1;">2022 Jan</div>
<div class="t" style="left:1298.7944px;width:200px;text-align:center;top:1339px;font-size:27px;color:#a9a7b1;">2022 Jul</div>
<div class="t" style="left:1447.908px;width:200px;text-align:center;top:1339px;font-size:27px;color:#a9a7b1;">2023 Jan</div>
<div class="t" style="left:1594.5904px;width:200px;text-align:center;top:1339px;font-size:27px;color:#a9a7b1;">2023 Jul</div>
<div class="t" style="left:1743.704px;width:200px;text-align:center;top:1339px;font-size:27px;color:#a9a7b1;">2024 Jan</div>
<div class="t" style="left:1891.1968px;width:200px;text-align:center;top:1339px;font-size:27px;color:#a9a7b1;">2024 Jul</div>
<div class="t" style="left:2040.3104000000003px;width:200px;text-align:center;top:1339px;font-size:27px;color:#a9a7b1;">2025 Jan</div>
<div class="t" style="left:2186.9928px;width:200px;text-align:center;top:1339px;font-size:27px;color:#a9a7b1;">2025 Jul</div>
<div class="t" style="right:63px;top:1386px;font-size:23px;color:#9e9ca5;letter-spacing:-0.75px;">© CryptoQuant. All rights reserved</div>
</body></html>
